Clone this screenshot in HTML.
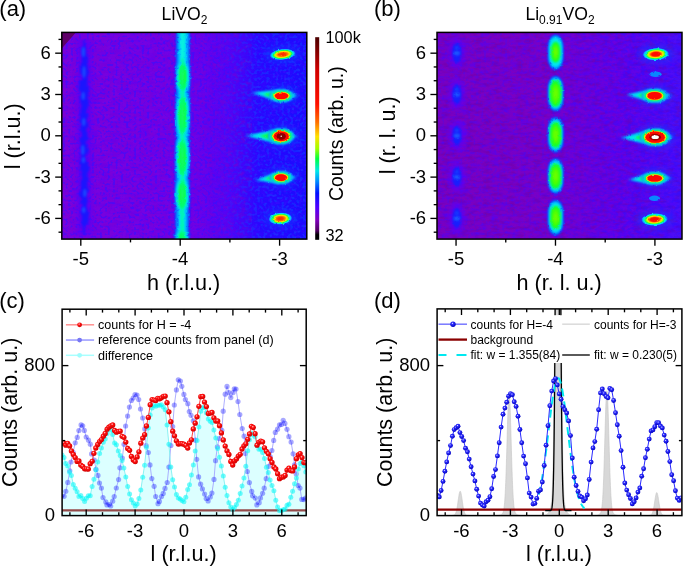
<!DOCTYPE html>
<html><head><meta charset="utf-8"><style>
html,body{margin:0;padding:0;background:#fff;width:685px;height:566px;overflow:hidden}
svg{display:block}
text{font-family:"Liberation Sans",sans-serif;fill:#000}
filter{color-interpolation-filters:sRGB}
</style></head><body>
<svg style="will-change:transform" width="685" height="566" viewBox="0 0 685 566">
<rect width="685" height="566" fill="#fff"/>
<defs>
<linearGradient id="cbar" x1="0" y1="0" x2="0" y2="1">
<stop offset="0" stop-color="#4a0000"/>
<stop offset="0.06" stop-color="#7a0000"/>
<stop offset="0.16" stop-color="#d00000"/>
<stop offset="0.33" stop-color="#ff1000"/>
<stop offset="0.42" stop-color="#ff7000"/>
<stop offset="0.49" stop-color="#ffe000"/>
<stop offset="0.55" stop-color="#a0ff00"/>
<stop offset="0.60" stop-color="#00ff40"/>
<stop offset="0.66" stop-color="#00e8e8"/>
<stop offset="0.71" stop-color="#0090ff"/>
<stop offset="0.77" stop-color="#0010ff"/>
<stop offset="0.84" stop-color="#5000ff"/>
<stop offset="0.90" stop-color="#8000c0"/>
<stop offset="0.955" stop-color="#500060"/>
<stop offset="0.975" stop-color="#000000"/>
<stop offset="1" stop-color="#000000"/>
</linearGradient>
<linearGradient id="abg" x1="62" y1="0" x2="307" y2="0" gradientUnits="userSpaceOnUse">
<stop offset="0" stop-color="#7a02dc"/>
<stop offset="0.52" stop-color="#7002e6"/>
<stop offset="0.68" stop-color="#5604f4"/>
<stop offset="0.8" stop-color="#2a08ff"/>
<stop offset="1" stop-color="#1a0cff"/>
</linearGradient>
<linearGradient id="bbg" x1="437" y1="0" x2="682" y2="0" gradientUnits="userSpaceOnUse">
<stop offset="0" stop-color="#7a00c0"/>
<stop offset="0.45" stop-color="#7800c8"/>
<stop offset="0.72" stop-color="#6a00e0"/>
<stop offset="0.9" stop-color="#5608f0"/>
<stop offset="1" stop-color="#4a10f8"/>
</linearGradient>
<filter id="b1" x="-50%" y="-50%" width="200%" height="200%"><feGaussianBlur stdDeviation="1"/></filter>
<filter id="b05" x="-50%" y="-50%" width="200%" height="200%"><feGaussianBlur stdDeviation="0.6"/></filter>
<filter id="b15" x="-50%" y="-50%" width="200%" height="200%"><feGaussianBlur stdDeviation="1.5"/></filter>
<filter id="disp" x="-10%" y="-10%" width="120%" height="120%"><feTurbulence type="fractalNoise" baseFrequency="0.35" numOctaves="1" seed="4" result="n"/><feDisplacementMap in="SourceGraphic" in2="n" scale="3.2" xChannelSelector="R" yChannelSelector="G"/></filter>
<filter id="disp2" x="-5%" y="-5%" width="110%" height="110%"><feTurbulence type="fractalNoise" baseFrequency="0.4" numOctaves="1" seed="9" result="n"/><feDisplacementMap in="SourceGraphic" in2="n" scale="2.6" xChannelSelector="R" yChannelSelector="G"/></filter>
<filter id="b2" x="-50%" y="-50%" width="200%" height="200%"><feGaussianBlur stdDeviation="2"/></filter>
<filter id="b3" x="-50%" y="-50%" width="200%" height="200%"><feGaussianBlur stdDeviation="3"/></filter>
<filter id="noiseB" x="0" y="0" width="100%" height="100%">
<feTurbulence type="fractalNoise" baseFrequency="0.1 0.28" numOctaves="2" seed="3" result="t"/>
<feColorMatrix in="t" type="matrix" values="0 0 0 0 0.3  0 0 0 0 0.0  0 0 0 0 1  0 0 0 -3.2 1.75" />
<feGaussianBlur stdDeviation="0.6"/>
</filter>
<filter id="noiseP" x="0" y="0" width="100%" height="100%">
<feTurbulence type="fractalNoise" baseFrequency="0.15 0.22" numOctaves="2" seed="11" result="t"/>
<feColorMatrix in="t" type="matrix" values="0 0 0 0 0.5  0 0 0 0 0  0 0 0 0 0.8  0 0 0 2.8 -1.25" />
<feGaussianBlur stdDeviation="0.6"/>
</filter>
<filter id="noiseL" x="0" y="0" width="100%" height="100%">
<feTurbulence type="fractalNoise" baseFrequency="0.33 0.36" numOctaves="1" seed="8" result="t"/>
<feColorMatrix in="t" type="matrix" values="0 0 0 0 0.05  0 0 0 0 0.35  0 0 0 0 1  0 0 0 -7 3.5" />
<feGaussianBlur stdDeviation="0.5"/>
</filter>
<radialGradient id="gred" cx="0.4" cy="0.35" r="0.65">
<stop offset="0" stop-color="#ffd0d0"/><stop offset="0.35" stop-color="#ff1010"/><stop offset="1" stop-color="#d00000"/></radialGradient>
<radialGradient id="gblue" cx="0.4" cy="0.35" r="0.65">
<stop offset="0" stop-color="#e0e0ff"/><stop offset="0.3" stop-color="#3030ff"/><stop offset="1" stop-color="#0000c0"/></radialGradient>
<linearGradient id="mfade" x1="62" y1="0" x2="307" y2="0" gradientUnits="userSpaceOnUse"><stop offset="0.6" stop-color="#fff" stop-opacity="0"/><stop offset="0.8" stop-color="#fff" stop-opacity="1"/></linearGradient>
<mask id="mright" maskUnits="userSpaceOnUse" x="0" y="0" width="685" height="566"><rect x="62" y="32" width="245" height="208" fill="url(#mfade)"/></mask>
<linearGradient id="mfadeb" x1="437" y1="0" x2="682" y2="0" gradientUnits="userSpaceOnUse"><stop offset="0.45" stop-color="#fff" stop-opacity="0"/><stop offset="0.8" stop-color="#fff" stop-opacity="1"/></linearGradient>
<mask id="mrightb" maskUnits="userSpaceOnUse" x="0" y="0" width="685" height="566"><rect x="437" y="32" width="245" height="208" fill="url(#mfadeb)"/></mask>
<filter id="noiseB2" x="0" y="0" width="100%" height="100%">
<feTurbulence type="fractalNoise" baseFrequency="0.22 0.3" numOctaves="2" seed="17" result="t"/>
<feColorMatrix in="t" type="matrix" values="0 0 0 0 0.18  0 0 0 0 0.05  0 0 0 0 1  0 0 0 -5 2.75" />
<feGaussianBlur stdDeviation="0.5"/>
</filter>
<radialGradient id="gspotS" cx="0.5" cy="0.5" r="0.5">
<stop offset="0" stop-color="#ff2800"/><stop offset="0.22" stop-color="#ff3800"/><stop offset="0.38" stop-color="#ff7800"/>
<stop offset="0.52" stop-color="#ffe000"/><stop offset="0.62" stop-color="#90ff10"/><stop offset="0.7" stop-color="#10ff50"/>
<stop offset="0.8" stop-color="#00e8f0"/><stop offset="0.9" stop-color="#0a98ff"/><stop offset="1" stop-color="#0a50ff" stop-opacity="0"/></radialGradient>
<radialGradient id="gspotR" cx="0.5" cy="0.5" r="0.5">
<stop offset="0" stop-color="#ff0800"/><stop offset="0.3" stop-color="#ff1000"/><stop offset="0.4" stop-color="#ff6000"/>
<stop offset="0.52" stop-color="#ffe000"/><stop offset="0.62" stop-color="#90ff10"/><stop offset="0.7" stop-color="#10ff50"/>
<stop offset="0.8" stop-color="#00e8f0"/><stop offset="0.9" stop-color="#0a98ff"/><stop offset="1" stop-color="#0a50ff" stop-opacity="0"/></radialGradient>
<filter id="noiseS" x="0" y="0" width="100%" height="100%">
<feTurbulence type="fractalNoise" baseFrequency="0.38 0.42" numOctaves="1" seed="23" result="t"/>
<feColorMatrix in="t" type="matrix" values="0 0 0 0 0.22  0 0 0 0 0.06  0 0 0 0 1  0 0 0 -8 3.7" />
<feGaussianBlur stdDeviation="0.45"/>
</filter>
<filter id="noiseD" x="0" y="0" width="100%" height="100%">
<feTurbulence type="fractalNoise" baseFrequency="0.12 0.3" numOctaves="2" seed="31" result="t"/>
<feColorMatrix in="t" type="matrix" values="0 0 0 0 0.42  0 0 0 0 0  0 0 0 0 0.58  0 0 0 3.2 -1.5" />
<feGaussianBlur stdDeviation="0.6"/>
</filter>
<clipPath id="clipa"><rect x="62" y="32.5" width="245" height="206.5"/></clipPath>
<clipPath id="clipb"><rect x="437" y="32.5" width="245" height="206.5"/></clipPath>
<clipPath id="clipc"><rect x="62" y="309" width="244.3" height="206"/></clipPath>
<clipPath id="clipd"><rect x="437" y="309" width="244.6" height="206"/></clipPath>
</defs>
<g clip-path="url(#clipa)">
<rect x="62" y="32" width="245" height="208" fill="url(#abg)"/>
<rect x="62" y="32" width="245" height="208" filter="url(#noiseB)" opacity="0.3"/>
<rect x="62" y="32" width="190" height="208" filter="url(#noiseP)" opacity="0.45"/>
<rect x="62" y="32" width="245" height="208" filter="url(#noiseS)" opacity="0.6"/>
<g mask="url(#mright)"><rect x="62" y="32" width="245" height="208" filter="url(#noiseL)" opacity="0.35"/></g>
<polygon points="60.0,30.0 78.0,30.0 60.0,50.5" fill="#60006a" filter="url(#b05)"/>
<rect x="77.5" y="40" width="14" height="195" fill="#5000ff" filter="url(#b2)" opacity="0.55"/>
<polygon points="83.4,40.0 83.2,43.0 83.7,46.0 80.9,49.0 81.5,52.0 81.8,55.0 81.8,58.0 82.1,61.0 81.1,64.0 79.8,67.0 80.1,70.0 80.0,73.0 82.8,76.0 82.7,79.0 78.9,82.0 79.6,85.0 78.4,88.0 79.3,91.0 82.0,94.0 79.3,97.0 80.0,100.0 80.5,103.0 81.8,106.0 80.8,109.0 81.0,112.0 79.7,115.0 80.7,118.0 78.9,121.0 81.7,124.0 80.2,127.0 80.2,130.0 81.8,133.0 82.2,136.0 79.6,139.0 80.2,142.0 81.0,145.0 80.3,148.0 81.6,151.0 80.5,154.0 81.5,157.0 80.6,160.0 79.6,163.0 81.2,166.0 79.8,169.0 82.0,172.0 81.1,175.0 82.4,178.0 80.9,181.0 80.7,184.0 81.0,187.0 81.1,190.0 79.2,193.0 79.1,196.0 82.3,199.0 79.4,202.0 82.9,205.0 81.7,208.0 81.0,211.0 80.7,214.0 82.1,217.0 81.7,220.0 81.2,223.0 82.5,226.0 83.0,229.0 83.1,232.0 83.3,235.0 84.6,235.0 84.9,232.0 84.9,229.0 84.9,226.0 88.4,223.0 88.4,220.0 88.5,217.0 89.2,214.0 88.1,211.0 86.5,208.0 86.6,205.0 87.5,202.0 87.5,199.0 86.4,196.0 86.5,193.0 89.1,190.0 87.6,187.0 87.4,184.0 87.6,181.0 88.7,178.0 86.6,175.0 88.1,172.0 89.7,169.0 88.6,166.0 87.9,163.0 85.9,160.0 85.2,157.0 86.3,154.0 89.3,151.0 87.4,148.0 87.1,145.0 85.3,142.0 88.8,139.0 87.3,136.0 87.5,133.0 85.9,130.0 88.0,127.0 88.7,124.0 86.6,121.0 87.2,118.0 88.7,115.0 85.6,112.0 87.3,109.0 88.2,106.0 88.9,103.0 88.5,100.0 87.5,97.0 88.4,94.0 88.7,91.0 89.1,88.0 86.6,85.0 87.8,82.0 87.1,79.0 87.3,76.0 89.3,73.0 88.2,70.0 87.8,67.0 87.4,64.0 87.5,61.0 88.4,58.0 86.4,55.0 86.4,52.0 85.9,49.0 85.6,46.0 84.9,43.0 84.9,40.0" fill="#1418ff" filter="url(#b1)" opacity="0.9"/>
<ellipse cx="83.4" cy="52.0" rx="1.80" ry="5.00" fill="#1a50ff" filter="url(#b1)" opacity="0.85"/>
<ellipse cx="84.0" cy="72.0" rx="1.80" ry="6.00" fill="#1a50ff" filter="url(#b1)" opacity="0.85"/>
<ellipse cx="83.2" cy="96.0" rx="1.80" ry="4.00" fill="#1a50ff" filter="url(#b1)" opacity="0.85"/>
<ellipse cx="83.7" cy="122.0" rx="1.80" ry="4.00" fill="#1a50ff" filter="url(#b1)" opacity="0.85"/>
<ellipse cx="82.8" cy="150.0" rx="1.80" ry="5.00" fill="#1a50ff" filter="url(#b1)" opacity="0.85"/>
<ellipse cx="83.4" cy="160.0" rx="1.80" ry="3.00" fill="#1a50ff" filter="url(#b1)" opacity="0.85"/>
<ellipse cx="84.8" cy="193.0" rx="1.80" ry="4.00" fill="#1a50ff" filter="url(#b1)" opacity="0.85"/>
<ellipse cx="83.7" cy="210.0" rx="1.80" ry="3.00" fill="#1a50ff" filter="url(#b1)" opacity="0.85"/>
<g filter="url(#disp)">
<polygon points="176.0,28.0 176.0,29.8 176.0,31.6 176.0,33.4 176.0,35.3 176.0,37.1 176.0,38.9 176.0,40.7 175.9,42.5 175.9,44.3 175.9,46.2 175.9,48.0 175.9,49.8 175.9,51.6 175.9,53.4 175.9,55.2 175.9,57.0 175.9,58.9 175.9,60.7 175.9,62.5 175.7,64.3 175.5,66.1 175.4,67.9 175.3,69.7 175.3,71.6 175.2,73.4 175.2,75.2 175.2,77.0 175.2,78.8 175.2,80.6 175.2,82.5 175.2,84.3 175.3,86.1 175.4,87.9 175.6,89.7 175.7,91.5 175.7,93.3 175.7,95.2 175.7,97.0 175.4,98.8 175.3,100.6 175.2,102.4 175.2,104.2 175.1,106.1 175.1,107.9 175.1,109.7 175.0,111.5 175.0,113.3 175.0,115.1 175.0,116.9 175.0,118.8 175.0,120.6 175.0,122.4 175.0,124.2 175.1,126.0 175.1,127.8 175.1,129.6 175.2,131.5 175.3,133.3 175.5,135.1 175.5,136.9 175.5,138.7 175.3,140.5 175.1,142.4 175.1,144.2 175.0,146.0 174.9,147.8 174.9,149.6 174.9,151.4 174.8,153.2 174.8,155.1 174.8,156.9 174.8,158.7 174.8,160.5 174.8,162.3 174.8,164.1 174.8,165.9 174.9,167.8 174.9,169.6 174.9,171.4 175.0,173.2 175.2,175.0 175.3,176.8 175.3,178.7 175.3,180.5 175.0,182.3 174.9,184.1 174.8,185.9 174.7,187.7 174.7,189.5 174.6,191.4 174.6,193.2 174.6,195.0 174.6,196.8 174.6,198.6 174.6,200.4 174.7,202.3 174.7,204.1 174.8,205.9 175.0,207.7 175.1,209.5 175.1,211.3 175.1,213.1 175.1,215.0 175.1,216.8 175.1,218.6 175.1,220.4 175.1,222.2 175.1,224.0 175.1,225.8 175.1,227.7 175.0,229.5 175.0,231.3 174.7,233.1 174.6,234.9 174.5,236.7 174.5,238.6 174.5,240.4 174.6,242.2 174.8,244.0 189.1,244.0 189.3,242.2 189.4,240.4 189.5,238.6 189.5,236.7 189.4,234.9 189.3,233.1 189.0,231.3 189.0,229.5 189.1,227.7 189.1,225.8 189.1,224.0 189.1,222.2 189.1,220.4 189.1,218.6 189.1,216.8 189.1,215.0 189.1,213.1 189.1,211.3 189.1,209.5 189.4,207.7 189.5,205.9 189.6,204.1 189.7,202.3 189.7,200.4 189.8,198.6 189.8,196.8 189.8,195.0 189.8,193.2 189.8,191.4 189.8,189.5 189.8,187.7 189.7,185.9 189.6,184.1 189.5,182.3 189.3,180.5 189.3,178.7 189.3,176.8 189.4,175.0 189.6,173.2 189.7,171.4 189.8,169.6 189.8,167.8 189.9,165.9 189.9,164.1 189.9,162.3 190.0,160.5 190.0,158.7 190.0,156.9 190.0,155.1 190.0,153.2 190.0,151.4 190.0,149.6 189.9,147.8 189.9,146.0 189.9,144.2 189.8,142.4 189.7,140.5 189.5,138.7 189.5,136.9 189.5,135.1 189.7,133.3 189.8,131.5 189.9,129.6 190.0,127.8 190.0,126.0 190.1,124.2 190.1,122.4 190.1,120.6 190.2,118.8 190.2,116.9 190.2,115.1 190.2,113.3 190.2,111.5 190.2,109.7 190.2,107.9 190.2,106.1 190.1,104.2 190.1,102.4 190.0,100.6 189.9,98.8 189.7,97.0 189.7,95.2 189.7,93.3 189.7,91.5 189.9,89.7 190.1,87.9 190.2,86.1 190.2,84.3 190.3,82.5 190.3,80.6 190.4,78.8 190.4,77.0 190.4,75.2 190.4,73.4 190.4,71.6 190.3,69.7 190.3,67.9 190.2,66.1 190.0,64.3 189.9,62.5 189.9,60.7 189.9,58.9 189.9,57.0 189.9,55.2 189.9,53.4 189.9,51.6 189.9,49.8 189.9,48.0 189.9,46.2 189.9,44.3 189.9,42.5 190.0,40.7 190.0,38.9 190.0,37.1 190.0,35.3 190.0,33.4 190.0,31.6 190.0,29.8 190.0,28.0" fill="#0a30ff" filter="url(#b1)"/>
<polygon points="177.0,28.0 177.0,29.8 177.0,31.6 177.0,33.4 177.0,35.3 177.0,37.1 177.0,38.9 177.0,40.7 176.9,42.5 176.9,44.3 176.9,46.2 176.9,48.0 176.9,49.8 176.9,51.6 176.9,53.4 176.9,55.2 176.9,57.0 176.9,58.9 176.9,60.7 176.9,62.5 176.6,64.3 176.3,66.1 176.2,67.9 176.1,69.7 176.0,71.6 175.9,73.4 175.9,75.2 175.9,77.0 175.9,78.8 175.9,80.6 175.9,82.5 176.0,84.3 176.1,86.1 176.2,87.9 176.5,89.7 176.7,91.5 176.7,93.3 176.7,95.2 176.6,97.0 176.3,98.8 176.1,100.6 176.0,102.4 175.9,104.2 175.9,106.1 175.8,107.9 175.8,109.7 175.7,111.5 175.7,113.3 175.7,115.1 175.7,116.9 175.7,118.8 175.7,120.6 175.7,122.4 175.8,124.2 175.8,126.0 175.9,127.8 175.9,129.6 176.1,131.5 176.2,133.3 176.5,135.1 176.5,136.9 176.5,138.7 176.2,140.5 176.0,142.4 175.9,144.2 175.8,146.0 175.7,147.8 175.6,149.6 175.6,151.4 175.5,153.2 175.5,155.1 175.5,156.9 175.5,158.7 175.5,160.5 175.5,162.3 175.5,164.1 175.6,165.9 175.6,167.8 175.7,169.6 175.8,171.4 175.9,173.2 176.1,175.0 176.3,176.8 176.3,178.7 176.3,180.5 175.9,182.3 175.7,184.1 175.6,185.9 175.5,187.7 175.4,189.5 175.4,191.4 175.3,193.2 175.3,195.0 175.3,196.8 175.3,198.6 175.4,200.4 175.4,202.3 175.5,204.1 175.6,205.9 175.9,207.7 176.1,209.5 176.1,211.3 176.1,213.1 176.1,215.0 176.1,216.8 176.1,218.6 176.1,220.4 176.1,222.2 176.1,224.0 176.1,225.8 176.1,227.7 176.0,229.5 176.0,231.3 175.6,233.1 175.4,234.9 175.3,236.7 175.3,238.6 175.3,240.4 175.4,242.2 175.8,244.0 188.2,244.0 188.5,242.2 188.7,240.4 188.7,238.6 188.7,236.7 188.6,234.9 188.5,233.1 188.0,231.3 188.0,229.5 188.1,227.7 188.1,225.8 188.1,224.0 188.1,222.2 188.1,220.4 188.1,218.6 188.1,216.8 188.1,215.0 188.1,213.1 188.1,211.3 188.1,209.5 188.5,207.7 188.7,205.9 188.8,204.1 188.9,202.3 189.0,200.4 189.1,198.6 189.1,196.8 189.1,195.0 189.1,193.2 189.1,191.4 189.1,189.5 189.0,187.7 188.9,185.9 188.8,184.1 188.7,182.3 188.3,180.5 188.3,178.7 188.3,176.8 188.5,175.0 188.8,173.2 188.9,171.4 189.0,169.6 189.1,167.8 189.1,165.9 189.2,164.1 189.2,162.3 189.3,160.5 189.3,158.7 189.3,156.9 189.3,155.1 189.3,153.2 189.3,151.4 189.2,149.6 189.2,147.8 189.1,146.0 189.1,144.2 188.9,142.4 188.8,140.5 188.5,138.7 188.5,136.9 188.5,135.1 188.8,133.3 189.0,131.5 189.1,129.6 189.2,127.8 189.3,126.0 189.4,124.2 189.4,122.4 189.4,120.6 189.5,118.8 189.5,116.9 189.5,115.1 189.5,113.3 189.5,111.5 189.5,109.7 189.5,107.9 189.4,106.1 189.4,104.2 189.3,102.4 189.2,100.6 189.1,98.8 188.7,97.0 188.7,95.2 188.7,93.3 188.7,91.5 188.9,89.7 189.2,87.9 189.4,86.1 189.5,84.3 189.6,82.5 189.6,80.6 189.7,78.8 189.7,77.0 189.7,75.2 189.7,73.4 189.6,71.6 189.6,69.7 189.5,67.9 189.3,66.1 189.1,64.3 188.9,62.5 188.9,60.7 188.9,58.9 188.9,57.0 188.9,55.2 188.9,53.4 188.9,51.6 188.9,49.8 188.9,48.0 188.9,46.2 188.9,44.3 188.9,42.5 189.0,40.7 189.0,38.9 189.0,37.1 189.0,35.3 189.0,33.4 189.0,31.6 189.0,29.8 189.0,28.0" fill="#00a0ff" filter="url(#b1)"/>
<polygon points="179.8,28.0 179.8,29.8 179.8,31.6 179.8,33.4 179.8,35.3 179.8,37.1 179.8,38.9 179.8,40.7 179.7,42.5 179.7,44.3 179.7,46.2 179.7,48.0 179.7,49.8 179.7,51.6 179.7,53.4 179.7,55.2 179.7,57.0 179.7,58.9 179.7,60.7 179.7,62.5 179.0,64.3 178.1,66.1 177.6,67.9 177.3,69.7 177.1,71.6 176.9,73.4 176.8,75.2 176.8,77.0 176.8,78.8 176.9,80.6 177.0,82.5 177.2,84.3 177.5,86.1 178.0,87.9 178.9,89.7 179.5,91.5 179.5,93.3 179.5,95.2 179.3,97.0 178.3,98.8 177.8,100.6 177.5,102.4 177.2,104.2 177.0,106.1 176.9,107.9 176.8,109.7 176.7,111.5 176.6,113.3 176.6,115.1 176.6,116.9 176.6,118.8 176.7,120.6 176.8,122.4 176.9,124.2 177.0,126.0 177.2,127.8 177.5,129.6 177.9,131.5 178.5,133.3 179.3,135.1 179.3,136.9 179.3,138.7 178.4,140.5 177.8,142.4 177.4,144.2 177.1,146.0 176.9,147.8 176.7,149.6 176.6,151.4 176.5,153.2 176.4,155.1 176.4,156.9 176.4,158.7 176.4,160.5 176.5,162.3 176.6,164.1 176.7,165.9 176.8,167.8 177.1,169.6 177.4,171.4 177.8,173.2 178.5,175.0 179.1,176.8 179.1,178.7 179.1,180.5 177.9,182.3 177.3,184.1 176.9,185.9 176.6,187.7 176.4,189.5 176.3,191.4 176.2,193.2 176.2,195.0 176.2,196.8 176.3,198.6 176.4,200.4 176.6,202.3 176.9,204.1 177.3,205.9 178.0,207.7 178.9,209.5 178.9,211.3 178.9,213.1 178.9,215.0 178.9,216.8 178.9,218.6 178.9,220.4 178.9,222.2 178.9,224.0 178.9,225.8 178.9,227.7 178.8,229.5 178.8,231.3 177.5,233.1 176.9,234.9 176.6,236.7 176.6,238.6 176.7,240.4 177.1,242.2 178.1,244.0 185.8,244.0 186.9,242.2 187.3,240.4 187.4,238.6 187.4,236.7 187.1,234.9 186.6,233.1 185.2,231.3 185.2,229.5 185.3,227.7 185.3,225.8 185.3,224.0 185.3,222.2 185.3,220.4 185.3,218.6 185.3,216.8 185.3,215.0 185.3,213.1 185.3,211.3 185.3,209.5 186.3,207.7 187.0,205.9 187.4,204.1 187.7,202.3 187.9,200.4 188.1,198.6 188.2,196.8 188.2,195.0 188.2,193.2 188.1,191.4 188.0,189.5 187.9,187.7 187.6,185.9 187.2,184.1 186.7,182.3 185.5,180.5 185.5,178.7 185.5,176.8 186.1,175.0 186.9,173.2 187.3,171.4 187.6,169.6 187.8,167.8 188.0,165.9 188.2,164.1 188.3,162.3 188.3,160.5 188.4,158.7 188.4,156.9 188.4,155.1 188.3,153.2 188.3,151.4 188.1,149.6 188.0,147.8 187.8,146.0 187.5,144.2 187.2,142.4 186.6,140.5 185.7,138.7 185.7,136.9 185.7,135.1 186.5,133.3 187.2,131.5 187.6,129.6 187.8,127.8 188.1,126.0 188.2,124.2 188.4,122.4 188.5,120.6 188.5,118.8 188.6,116.9 188.6,115.1 188.6,113.3 188.5,111.5 188.5,109.7 188.4,107.9 188.3,106.1 188.1,104.2 187.8,102.4 187.5,100.6 187.1,98.8 186.0,97.0 185.9,95.2 185.9,93.3 185.9,91.5 186.6,89.7 187.5,87.9 187.9,86.1 188.3,84.3 188.5,82.5 188.7,80.6 188.7,78.8 188.8,77.0 188.8,75.2 188.7,73.4 188.6,71.6 188.4,69.7 188.0,67.9 187.6,66.1 186.7,64.3 186.1,62.5 186.1,60.7 186.1,58.9 186.1,57.0 186.1,55.2 186.1,53.4 186.1,51.6 186.1,49.8 186.1,48.0 186.1,46.2 186.1,44.3 186.1,42.5 186.2,40.7 186.2,38.9 186.2,37.1 186.2,35.3 186.2,33.4 186.2,31.6 186.2,29.8 186.2,28.0" fill="#00e4f4" filter="url(#b1)"/>
<polygon points="182.4,28.0 182.4,29.8 182.4,31.6 182.4,33.4 182.4,35.3 182.4,37.1 182.4,38.9 182.4,40.7 182.3,42.5 182.3,44.3 182.3,46.2 182.3,48.0 182.3,49.8 182.3,51.6 182.3,53.4 182.3,55.2 182.3,57.0 182.3,58.9 182.3,60.7 182.3,62.5 181.3,64.3 180.1,66.1 179.5,67.9 179.1,69.7 178.7,71.6 178.5,73.4 178.4,75.2 178.4,77.0 178.4,78.8 178.5,80.6 178.7,82.5 179.0,84.3 179.4,86.1 180.0,87.9 181.3,89.7 182.1,91.5 182.1,93.3 182.1,95.2 181.9,97.0 180.4,98.8 179.8,100.6 179.4,102.4 179.0,104.2 178.8,106.1 178.6,107.9 178.4,109.7 178.3,111.5 178.2,113.3 178.2,115.1 178.2,116.9 178.2,118.8 178.3,120.6 178.4,122.4 178.6,124.2 178.8,126.0 179.1,127.8 179.5,129.6 180.0,131.5 180.8,133.3 181.9,135.1 181.9,136.9 181.9,138.7 180.7,140.5 179.9,142.4 179.3,144.2 178.9,146.0 178.7,147.8 178.4,149.6 178.3,151.4 178.1,153.2 178.0,155.1 178.0,156.9 178.0,158.7 178.0,160.5 178.1,162.3 178.2,164.1 178.4,165.9 178.6,167.8 178.9,169.6 179.3,171.4 179.9,173.2 180.9,175.0 181.7,176.8 181.7,178.7 181.7,180.5 180.0,182.3 179.2,184.1 178.7,185.9 178.4,187.7 178.1,189.5 177.9,191.4 177.8,193.2 177.8,195.0 177.8,196.8 178.0,198.6 178.1,200.4 178.4,202.3 178.8,204.1 179.3,205.9 180.3,207.7 181.5,209.5 181.5,211.3 181.5,213.1 181.5,215.0 181.5,216.8 181.5,218.6 181.5,220.4 181.5,222.2 181.5,224.0 181.5,225.8 181.5,227.7 181.4,229.5 181.4,231.3 179.6,233.1 178.8,234.9 178.4,236.7 178.4,238.6 178.6,240.4 179.1,242.2 180.5,244.0 183.5,244.0 184.9,242.2 185.4,240.4 185.6,238.6 185.6,236.7 185.2,234.9 184.4,233.1 182.6,231.3 182.6,229.5 182.7,227.7 182.7,225.8 182.7,224.0 182.7,222.2 182.7,220.4 182.7,218.6 182.7,216.8 182.7,215.0 182.7,213.1 182.7,211.3 182.7,209.5 184.0,207.7 185.0,205.9 185.6,204.1 186.0,202.3 186.2,200.4 186.4,198.6 186.6,196.8 186.6,195.0 186.6,193.2 186.5,191.4 186.4,189.5 186.1,187.7 185.8,185.9 185.3,184.1 184.5,182.3 182.9,180.5 182.9,178.7 182.9,176.8 183.7,175.0 184.8,173.2 185.3,171.4 185.7,169.6 186.1,167.8 186.3,165.9 186.5,164.1 186.6,162.3 186.7,160.5 186.8,158.7 186.8,156.9 186.8,155.1 186.7,153.2 186.6,151.4 186.4,149.6 186.2,147.8 186.0,146.0 185.6,144.2 185.1,142.4 184.3,140.5 183.1,138.7 183.1,136.9 183.1,135.1 184.2,133.3 185.1,131.5 185.6,129.6 186.0,127.8 186.3,126.0 186.5,124.2 186.7,122.4 186.8,120.6 186.9,118.8 187.0,116.9 187.0,115.1 187.0,113.3 186.9,111.5 186.8,109.7 186.7,107.9 186.5,106.1 186.3,104.2 186.0,102.4 185.5,100.6 184.9,98.8 183.5,97.0 183.3,95.2 183.3,93.3 183.3,91.5 184.2,89.7 185.4,87.9 186.1,86.1 186.5,84.3 186.8,82.5 187.0,80.6 187.1,78.8 187.2,77.0 187.2,75.2 187.1,73.4 186.9,71.6 186.6,69.7 186.2,67.9 185.6,66.1 184.4,64.3 183.5,62.5 183.5,60.7 183.5,58.9 183.5,57.0 183.5,55.2 183.5,53.4 183.5,51.6 183.5,49.8 183.5,48.0 183.5,46.2 183.5,44.3 183.5,42.5 183.6,40.7 183.6,38.9 183.6,37.1 183.6,35.3 183.6,33.4 183.6,31.6 183.6,29.8 183.6,28.0" fill="#00ff90" filter="url(#b1)"/>
<polygon points="183.0,28.0 183.0,29.8 183.0,31.6 183.0,33.4 183.0,35.3 183.0,37.1 183.0,38.9 183.0,40.7 182.9,42.5 182.9,44.3 182.9,46.2 182.9,48.0 182.9,49.8 182.9,51.6 182.9,53.4 182.9,55.2 182.9,57.0 182.9,58.9 182.9,60.7 182.9,62.5 182.5,64.3 181.4,66.1 180.8,67.9 180.3,69.7 180.0,71.6 179.8,73.4 179.7,75.2 179.7,77.0 179.7,78.8 179.8,80.6 180.0,82.5 180.3,84.3 180.7,86.1 181.3,87.9 182.5,89.7 182.7,91.5 182.7,93.3 182.7,95.2 182.7,97.0 181.7,98.8 181.1,100.6 180.6,102.4 180.3,104.2 180.1,106.1 179.9,107.9 179.7,109.7 179.6,111.5 179.5,113.3 179.5,115.1 179.5,116.9 179.5,118.8 179.6,120.6 179.7,122.4 179.9,124.2 180.1,126.0 180.4,127.8 180.7,129.6 181.2,131.5 182.0,133.3 182.5,135.1 182.5,136.9 182.5,138.7 181.9,140.5 181.1,142.4 180.6,144.2 180.2,146.0 179.9,147.8 179.7,149.6 179.5,151.4 179.4,153.2 179.3,155.1 179.3,156.9 179.3,158.7 179.3,160.5 179.4,162.3 179.5,164.1 179.7,165.9 179.9,167.8 180.2,169.6 180.6,171.4 181.1,173.2 182.1,175.0 182.3,176.8 182.3,178.7 182.3,180.5 181.3,182.3 180.5,184.1 180.0,185.9 179.7,187.7 179.4,189.5 179.2,191.4 179.1,193.2 179.1,195.0 179.1,196.8 179.2,198.6 179.4,200.4 179.7,202.3 180.1,204.1 180.6,205.9 181.5,207.7 182.1,209.5 182.1,211.3 182.1,213.1 182.1,215.0 182.1,216.8 182.1,218.6 182.1,220.4 182.1,222.2 182.1,224.0 182.1,225.8 182.1,227.7 182.0,229.5 182.0,231.3 180.9,233.1 180.1,234.9 179.7,236.7 179.7,238.6 179.8,240.4 180.4,242.2 181.7,244.0 182.3,244.0 183.6,242.2 184.1,240.4 184.4,238.6 184.3,236.7 184.0,234.9 183.2,233.1 182.0,231.3 182.0,229.5 182.1,227.7 182.1,225.8 182.1,224.0 182.1,222.2 182.1,220.4 182.1,218.6 182.1,216.8 182.1,215.0 182.1,213.1 182.1,211.3 182.1,209.5 182.8,207.7 183.7,205.9 184.3,204.1 184.7,202.3 185.0,200.4 185.1,198.6 185.3,196.8 185.3,195.0 185.3,193.2 185.2,191.4 185.1,189.5 184.8,187.7 184.5,185.9 184.0,184.1 183.3,182.3 182.3,180.5 182.3,178.7 182.3,176.8 182.5,175.0 183.5,173.2 184.1,171.4 184.5,169.6 184.8,167.8 185.0,165.9 185.2,164.1 185.3,162.3 185.4,160.5 185.5,158.7 185.5,156.9 185.5,155.1 185.4,153.2 185.3,151.4 185.2,149.6 184.9,147.8 184.7,146.0 184.3,144.2 183.8,142.4 183.0,140.5 182.5,138.7 182.5,136.9 182.5,135.1 183.0,133.3 183.8,131.5 184.3,129.6 184.7,127.8 185.0,126.0 185.2,124.2 185.4,122.4 185.5,120.6 185.6,118.8 185.7,116.9 185.7,115.1 185.7,113.3 185.6,111.5 185.5,109.7 185.4,107.9 185.2,106.1 185.0,104.2 184.7,102.4 184.3,100.6 183.7,98.8 182.7,97.0 182.7,95.2 182.7,93.3 182.7,91.5 183.0,89.7 184.2,87.9 184.8,86.1 185.2,84.3 185.5,82.5 185.7,80.6 185.8,78.8 185.9,77.0 185.9,75.2 185.8,73.4 185.6,71.6 185.3,69.7 184.9,67.9 184.3,66.1 183.2,64.3 182.9,62.5 182.9,60.7 182.9,58.9 182.9,57.0 182.9,55.2 182.9,53.4 182.9,51.6 182.9,49.8 182.9,48.0 182.9,46.2 182.9,44.3 182.9,42.5 183.0,40.7 183.0,38.9 183.0,37.1 183.0,35.3 183.0,33.4 183.0,31.6 183.0,29.8 183.0,28.0" fill="#00ff40" filter="url(#b1)"/>
<polygon points="183.0,28.0 183.0,29.8 183.0,31.6 183.0,33.4 183.0,35.3 183.0,37.1 183.0,38.9 183.0,40.7 182.9,42.5 182.9,44.3 182.9,46.2 182.9,48.0 182.9,49.8 182.9,51.6 182.9,53.4 182.9,55.2 182.9,57.0 182.9,58.9 182.9,60.7 182.9,62.5 182.8,64.3 182.8,66.1 182.7,67.9 182.3,69.7 182.0,71.6 181.8,73.4 181.7,75.2 181.7,77.0 181.7,78.8 181.8,80.6 182.0,82.5 182.3,84.3 182.7,86.1 182.7,87.9 182.7,89.7 182.7,91.5 182.7,93.3 182.7,95.2 182.7,97.0 182.7,98.8 182.7,100.6 182.6,102.4 182.3,104.2 182.0,106.1 181.9,107.9 181.7,109.7 181.6,111.5 181.5,113.3 181.5,115.1 181.5,116.9 181.5,118.8 181.6,120.6 181.7,122.4 181.9,124.2 182.1,126.0 182.3,127.8 182.5,129.6 182.5,131.5 182.5,133.3 182.5,135.1 182.5,136.9 182.5,138.7 182.5,140.5 182.5,142.4 182.5,144.2 182.2,146.0 181.9,147.8 181.7,149.6 181.5,151.4 181.4,153.2 181.3,155.1 181.3,156.9 181.3,158.7 181.3,160.5 181.4,162.3 181.5,164.1 181.7,165.9 181.9,167.8 182.2,169.6 182.3,171.4 182.3,173.2 182.3,175.0 182.3,176.8 182.3,178.7 182.3,180.5 182.3,182.3 182.3,184.1 182.0,185.9 181.6,187.7 181.4,189.5 181.2,191.4 181.1,193.2 181.1,195.0 181.1,196.8 181.2,198.6 181.4,200.4 181.7,202.3 182.0,204.1 182.2,205.9 182.2,207.7 182.1,209.5 182.1,211.3 182.1,213.1 182.1,215.0 182.1,216.8 182.1,218.6 182.1,220.4 182.1,222.2 182.1,224.0 182.1,225.8 182.1,227.7 182.0,229.5 182.0,231.3 182.0,233.1 182.0,234.9 181.7,236.7 181.6,238.6 181.8,240.4 182.0,242.2 182.0,244.0 182.0,244.0 182.0,242.2 182.2,240.4 182.4,238.6 182.3,236.7 182.0,234.9 182.0,233.1 182.0,231.3 182.0,229.5 182.1,227.7 182.1,225.8 182.1,224.0 182.1,222.2 182.1,220.4 182.1,218.6 182.1,216.8 182.1,215.0 182.1,213.1 182.1,211.3 182.1,209.5 182.2,207.7 182.2,205.9 182.3,204.1 182.7,202.3 183.0,200.4 183.1,198.6 183.3,196.8 183.3,195.0 183.3,193.2 183.2,191.4 183.1,189.5 182.9,187.7 182.5,185.9 182.3,184.1 182.3,182.3 182.3,180.5 182.3,178.7 182.3,176.8 182.3,175.0 182.3,173.2 182.3,171.4 182.5,169.6 182.8,167.8 183.0,165.9 183.2,164.1 183.3,162.3 183.4,160.5 183.5,158.7 183.5,156.9 183.5,155.1 183.4,153.2 183.3,151.4 183.2,149.6 183.0,147.8 182.7,146.0 182.5,144.2 182.5,142.4 182.5,140.5 182.5,138.7 182.5,136.9 182.5,135.1 182.5,133.3 182.5,131.5 182.5,129.6 182.7,127.8 183.0,126.0 183.2,124.2 183.4,122.4 183.5,120.6 183.6,118.8 183.7,116.9 183.7,115.1 183.7,113.3 183.6,111.5 183.5,109.7 183.4,107.9 183.2,106.1 183.0,104.2 182.7,102.4 182.7,100.6 182.7,98.8 182.7,97.0 182.7,95.2 182.7,93.3 182.7,91.5 182.7,89.7 182.7,87.9 182.8,86.1 183.2,84.3 183.5,82.5 183.7,80.6 183.8,78.8 183.9,77.0 183.9,75.2 183.8,73.4 183.6,71.6 183.3,69.7 182.9,67.9 182.8,66.1 182.8,64.3 182.9,62.5 182.9,60.7 182.9,58.9 182.9,57.0 182.9,55.2 182.9,53.4 182.9,51.6 182.9,49.8 182.9,48.0 182.9,46.2 182.9,44.3 182.9,42.5 183.0,40.7 183.0,38.9 183.0,37.1 183.0,35.3 183.0,33.4 183.0,31.6 183.0,29.8 183.0,28.0" fill="#40ff10" filter="url(#b15)"/>
<rect x="180.7" y="30" width="3.6" height="30" fill="#10f0f0" filter="url(#b1)" opacity="0.6"/>
<rect x="180.8" y="58" width="3.2" height="185" fill="#00f8a0" filter="url(#b1)" opacity="0.55"/>
</g>
<g filter="url(#disp2)">
<ellipse cx="282.6" cy="54.4" rx="18.20" ry="8.60" fill="#0a48ff" filter="url(#b3)" opacity="0.45"/>
<ellipse cx="282.6" cy="54.4" rx="13.20" ry="5.60" fill="url(#gspotS)" transform="rotate(-6 282.6 54.4)"/>
<ellipse cx="281.5" cy="95.8" rx="16.60" ry="9.30" fill="#0a48ff" filter="url(#b3)" opacity="0.5"/>
<polygon points="250.5,92.8 279.5,89.5 279.5,102.1" fill="#0a90ff" filter="url(#b1)"/>
<polygon points="254.5,92.8 279.5,90.5 279.5,101.1" fill="#00e8f0" filter="url(#b1)"/>
<polygon points="262.9,94.3 279.5,91.4 279.5,100.2" fill="#10ff40" filter="url(#b1)"/>
<polygon points="283.5,89.1 298.0,95.5 283.5,102.5" fill="#0a90ff" filter="url(#b1)"/>
<polygon points="283.5,90.1 295.5,95.5 283.5,101.5" fill="#00e8f0" filter="url(#b1)"/>
<ellipse cx="281.5" cy="95.8" rx="12.20" ry="6.50" fill="#0a90ff" filter="url(#b1)"/>
<ellipse cx="281.5" cy="95.8" rx="11.00" ry="5.70" fill="#00e8f0" filter="url(#b1)"/>
<ellipse cx="281.5" cy="95.8" rx="9.60" ry="4.70" fill="#10ff40" filter="url(#b1)"/>
<ellipse cx="281.5" cy="95.8" rx="8.10" ry="4.00" fill="#ffee00" filter="url(#b05)"/>
<ellipse cx="281.5" cy="95.8" rx="7.30" ry="3.65" fill="#ff8800" filter="url(#b05)"/>
<ellipse cx="281.5" cy="95.8" rx="6.60" ry="3.30" fill="#ff0800" filter="url(#b05)"/>
<ellipse cx="281.2" cy="136.3" rx="17.40" ry="10.90" fill="#0a48ff" filter="url(#b3)" opacity="0.5"/>
<polygon points="245.2,135.8 279.0,128.4 279.0,144.2" fill="#0a90ff" filter="url(#b1)"/>
<polygon points="249.2,135.8 279.0,129.4 279.0,143.2" fill="#00e8f0" filter="url(#b1)"/>
<polygon points="259.6,136.1 279.0,130.3 279.0,142.3" fill="#10ff40" filter="url(#b1)"/>
<polygon points="283.4,128.0 297.2,136.0 283.4,144.6" fill="#0a90ff" filter="url(#b1)"/>
<polygon points="283.4,129.0 294.7,136.0 283.4,143.6" fill="#00e8f0" filter="url(#b1)"/>
<ellipse cx="281.2" cy="136.3" rx="13.00" ry="8.10" fill="#0a90ff" filter="url(#b1)"/>
<ellipse cx="281.2" cy="136.3" rx="11.80" ry="7.30" fill="#00e8f0" filter="url(#b1)"/>
<ellipse cx="281.2" cy="136.3" rx="10.40" ry="6.30" fill="#10ff40" filter="url(#b1)"/>
<ellipse cx="281.2" cy="136.3" rx="8.90" ry="5.60" fill="#ffee00" filter="url(#b05)"/>
<ellipse cx="281.2" cy="136.3" rx="8.10" ry="5.25" fill="#ff8800" filter="url(#b05)"/>
<ellipse cx="281.2" cy="136.3" rx="7.40" ry="4.90" fill="#ff0800" filter="url(#b05)"/>
<ellipse cx="281.2" cy="136.3" rx="4.60" ry="3.40" fill="#8a0000" filter="url(#b05)"/>
<ellipse cx="281.2" cy="136.3" rx="0.70" ry="0.70" fill="#ffffff"/>
<ellipse cx="281.1" cy="177.6" rx="15.80" ry="9.30" fill="#0a48ff" filter="url(#b3)" opacity="0.5"/>
<polygon points="254.1,179.8 279.4,171.3 279.4,183.9" fill="#0a90ff" filter="url(#b1)"/>
<polygon points="258.1,179.8 279.4,172.3 279.4,182.9" fill="#00e8f0" filter="url(#b1)"/>
<polygon points="264.9,178.7 279.4,173.2 279.4,182.0" fill="#10ff40" filter="url(#b1)"/>
<polygon points="282.8,170.9 296.6,177.3 282.8,184.3" fill="#0a90ff" filter="url(#b1)"/>
<polygon points="282.8,171.9 294.1,177.3 282.8,183.3" fill="#00e8f0" filter="url(#b1)"/>
<ellipse cx="281.1" cy="177.6" rx="11.40" ry="6.50" fill="#0a90ff" filter="url(#b1)"/>
<ellipse cx="281.1" cy="177.6" rx="10.20" ry="5.70" fill="#00e8f0" filter="url(#b1)"/>
<ellipse cx="281.1" cy="177.6" rx="8.80" ry="4.70" fill="#10ff40" filter="url(#b1)"/>
<ellipse cx="281.1" cy="177.6" rx="7.30" ry="4.00" fill="#ffee00" filter="url(#b05)"/>
<ellipse cx="281.1" cy="177.6" rx="6.50" ry="3.65" fill="#ff8800" filter="url(#b05)"/>
<ellipse cx="281.1" cy="177.6" rx="5.80" ry="3.30" fill="#ff0800" filter="url(#b05)"/>
<ellipse cx="280.4" cy="218.6" rx="17.00" ry="9.20" fill="#0a48ff" filter="url(#b3)" opacity="0.45"/>
<ellipse cx="280.4" cy="218.6" rx="12.00" ry="6.20" fill="url(#gspotS)" transform="rotate(-4 280.4 218.6)"/>
</g>
</g>
<g clip-path="url(#clipb)">
<rect x="437" y="32" width="245" height="208" fill="url(#bbg)"/>
<rect x="437" y="32" width="245" height="208" filter="url(#noiseB)" opacity="0.45"/>
<rect x="437" y="32" width="245" height="208" filter="url(#noiseD)" opacity="0.35"/>
<rect x="437" y="32" width="245" height="208" filter="url(#noiseS)" opacity="0.3"/>
<g mask="url(#mrightb)"><rect x="437" y="32" width="245" height="208" filter="url(#noiseB2)" opacity="0.4"/></g>
<g filter="url(#disp2)">
<ellipse cx="457.0" cy="52.9" rx="9.00" ry="16.00" fill="#5800ff" filter="url(#b2)" opacity="0.6"/>
<ellipse cx="456.8" cy="52.9" rx="4.60" ry="10.00" fill="#1420ff" filter="url(#b1)" opacity="0.95"/>
<ellipse cx="456.8" cy="53.2" rx="3.20" ry="2.20" fill="#1c60ff" filter="url(#b1)" opacity="0.9"/>
<ellipse cx="456.8" cy="47.9" rx="1.80" ry="1.80" fill="#1850ff" filter="url(#b1)" opacity="0.7"/>
<ellipse cx="457.0" cy="94.2" rx="9.00" ry="16.00" fill="#5800ff" filter="url(#b2)" opacity="0.6"/>
<ellipse cx="456.8" cy="94.2" rx="4.60" ry="10.00" fill="#1420ff" filter="url(#b1)" opacity="0.95"/>
<ellipse cx="456.8" cy="94.5" rx="3.20" ry="2.20" fill="#1c60ff" filter="url(#b1)" opacity="0.9"/>
<ellipse cx="456.8" cy="89.2" rx="1.80" ry="1.80" fill="#1850ff" filter="url(#b1)" opacity="0.7"/>
<ellipse cx="457.0" cy="135.5" rx="9.00" ry="16.00" fill="#5800ff" filter="url(#b2)" opacity="0.6"/>
<ellipse cx="456.8" cy="135.5" rx="4.60" ry="10.00" fill="#1420ff" filter="url(#b1)" opacity="0.95"/>
<ellipse cx="456.8" cy="135.8" rx="3.20" ry="2.20" fill="#1c60ff" filter="url(#b1)" opacity="0.9"/>
<ellipse cx="456.8" cy="130.5" rx="1.80" ry="1.80" fill="#1850ff" filter="url(#b1)" opacity="0.7"/>
<ellipse cx="457.0" cy="176.8" rx="9.00" ry="16.00" fill="#5800ff" filter="url(#b2)" opacity="0.6"/>
<ellipse cx="456.8" cy="176.8" rx="4.60" ry="10.00" fill="#1420ff" filter="url(#b1)" opacity="0.95"/>
<ellipse cx="456.8" cy="177.1" rx="3.20" ry="2.20" fill="#1c60ff" filter="url(#b1)" opacity="0.9"/>
<ellipse cx="456.8" cy="171.8" rx="1.80" ry="1.80" fill="#1850ff" filter="url(#b1)" opacity="0.7"/>
<ellipse cx="457.0" cy="218.1" rx="9.00" ry="16.00" fill="#5800ff" filter="url(#b2)" opacity="0.6"/>
<ellipse cx="456.8" cy="218.1" rx="4.60" ry="10.00" fill="#1420ff" filter="url(#b1)" opacity="0.95"/>
<ellipse cx="456.8" cy="218.4" rx="3.20" ry="2.20" fill="#1c60ff" filter="url(#b1)" opacity="0.9"/>
<ellipse cx="456.8" cy="213.1" rx="1.80" ry="1.80" fill="#1850ff" filter="url(#b1)" opacity="0.7"/>
<rect x="547.60" y="34.43" width="16.00" height="35.50" rx="8.00" ry="12.07" fill="#0a30ff" filter="url(#b1)"/>
<rect x="548.30" y="35.43" width="14.60" height="33.50" rx="7.30" ry="11.39" fill="#00a0ff" filter="url(#b1)"/>
<rect x="549.60" y="37.43" width="12.00" height="29.50" rx="6.00" ry="10.03" fill="#00e8f0" filter="url(#b1)"/>
<rect x="551.11" y="41.84" width="8.98" height="20.68" rx="4.49" ry="7.03" fill="#10ff30" filter="url(#b1)"/>
<ellipse cx="555.6" cy="52.2" rx="3.17" ry="7.92" fill="#50ff00" filter="url(#b15)"/>
<ellipse cx="555.6" cy="52.2" rx="1.58" ry="3.96" fill="#80ff00" filter="url(#b15)" opacity="0.6"/>
<rect x="547.60" y="75.74" width="16.00" height="35.50" rx="8.00" ry="12.07" fill="#0a30ff" filter="url(#b1)"/>
<rect x="548.30" y="76.74" width="14.60" height="33.50" rx="7.30" ry="11.39" fill="#00a0ff" filter="url(#b1)"/>
<rect x="549.60" y="78.74" width="12.00" height="29.50" rx="6.00" ry="10.03" fill="#00e8f0" filter="url(#b1)"/>
<rect x="549.89" y="80.33" width="11.42" height="26.32" rx="5.71" ry="8.95" fill="#10ff30" filter="url(#b1)"/>
<ellipse cx="555.6" cy="93.5" rx="4.03" ry="10.08" fill="#50ff00" filter="url(#b15)"/>
<ellipse cx="555.6" cy="93.5" rx="2.02" ry="5.04" fill="#80ff00" filter="url(#b15)" opacity="0.6"/>
<rect x="547.60" y="117.05" width="16.00" height="35.50" rx="8.00" ry="12.07" fill="#0a30ff" filter="url(#b1)"/>
<rect x="548.30" y="118.05" width="14.60" height="33.50" rx="7.30" ry="11.39" fill="#00a0ff" filter="url(#b1)"/>
<rect x="549.60" y="120.05" width="12.00" height="29.50" rx="6.00" ry="10.03" fill="#00e8f0" filter="url(#b1)"/>
<rect x="550.09" y="122.11" width="11.02" height="25.38" rx="5.51" ry="8.63" fill="#10ff30" filter="url(#b1)"/>
<ellipse cx="555.6" cy="134.8" rx="3.89" ry="9.72" fill="#50ff00" filter="url(#b15)"/>
<ellipse cx="555.6" cy="134.8" rx="1.94" ry="4.86" fill="#80ff00" filter="url(#b15)" opacity="0.6"/>
<rect x="547.60" y="158.36" width="16.00" height="35.50" rx="8.00" ry="12.07" fill="#0a30ff" filter="url(#b1)"/>
<rect x="548.30" y="159.36" width="14.60" height="33.50" rx="7.30" ry="11.39" fill="#00a0ff" filter="url(#b1)"/>
<rect x="549.60" y="161.36" width="12.00" height="29.50" rx="6.00" ry="10.03" fill="#00e8f0" filter="url(#b1)"/>
<rect x="550.09" y="163.42" width="11.02" height="25.38" rx="5.51" ry="8.63" fill="#10ff30" filter="url(#b1)"/>
<ellipse cx="555.6" cy="176.1" rx="3.89" ry="9.72" fill="#50ff00" filter="url(#b15)"/>
<ellipse cx="555.6" cy="176.1" rx="1.94" ry="4.86" fill="#80ff00" filter="url(#b15)" opacity="0.6"/>
<rect x="547.60" y="199.67" width="16.00" height="35.50" rx="8.00" ry="12.07" fill="#0a30ff" filter="url(#b1)"/>
<rect x="548.30" y="200.67" width="14.60" height="33.50" rx="7.30" ry="11.39" fill="#00a0ff" filter="url(#b1)"/>
<rect x="549.60" y="202.67" width="12.00" height="29.50" rx="6.00" ry="10.03" fill="#00e8f0" filter="url(#b1)"/>
<rect x="550.50" y="205.67" width="10.20" height="23.50" rx="5.10" ry="7.99" fill="#10ff30" filter="url(#b1)"/>
<ellipse cx="555.6" cy="217.4" rx="3.60" ry="9.00" fill="#50ff00" filter="url(#b15)"/>
<ellipse cx="555.6" cy="217.4" rx="1.80" ry="4.50" fill="#80ff00" filter="url(#b15)" opacity="0.6"/>
<ellipse cx="655.6" cy="74.3" rx="6.00" ry="2.80" fill="#0888ff" filter="url(#b05)"/>
<ellipse cx="654.5" cy="198.3" rx="5.50" ry="2.70" fill="#0888ff" filter="url(#b05)"/>
<ellipse cx="655.8" cy="54.2" rx="18.50" ry="9.40" fill="#0a48ff" filter="url(#b3)" opacity="0.45"/>
<ellipse cx="655.8" cy="54.2" rx="13.50" ry="6.40" fill="url(#gspotR)" transform="rotate(-3 655.8 54.2)"/>
<ellipse cx="654.6" cy="95.8" rx="17.20" ry="9.80" fill="#0a48ff" filter="url(#b3)" opacity="0.5"/>
<polygon points="625.6,94.8 652.4,89.0 652.4,102.6" fill="#0a90ff" filter="url(#b1)"/>
<polygon points="629.6,94.8 652.4,90.0 652.4,101.6" fill="#00e8f0" filter="url(#b1)"/>
<polygon points="637.2,95.3 652.4,90.9 652.4,100.7" fill="#10ff40" filter="url(#b1)"/>
<polygon points="656.8,88.6 672.1,95.5 656.8,103.0" fill="#0a90ff" filter="url(#b1)"/>
<polygon points="656.8,89.6 669.6,95.5 656.8,102.0" fill="#00e8f0" filter="url(#b1)"/>
<ellipse cx="654.6" cy="95.8" rx="12.80" ry="7.00" fill="#0a90ff" filter="url(#b1)"/>
<ellipse cx="654.6" cy="95.8" rx="11.60" ry="6.20" fill="#00e8f0" filter="url(#b1)"/>
<ellipse cx="654.6" cy="95.8" rx="10.20" ry="5.20" fill="#10ff40" filter="url(#b1)"/>
<ellipse cx="654.6" cy="95.8" rx="8.70" ry="4.50" fill="#ffee00" filter="url(#b05)"/>
<ellipse cx="654.6" cy="95.8" rx="7.90" ry="4.15" fill="#ff8800" filter="url(#b05)"/>
<ellipse cx="654.6" cy="95.8" rx="7.20" ry="3.80" fill="#ff0800" filter="url(#b05)"/>
<ellipse cx="655.2" cy="137.2" rx="19.60" ry="11.60" fill="#0a48ff" filter="url(#b3)" opacity="0.5"/>
<polygon points="620.2,137.7 652.3,128.6 652.3,145.8" fill="#0a90ff" filter="url(#b1)"/>
<polygon points="624.2,137.7 652.3,129.6 652.3,144.8" fill="#00e8f0" filter="url(#b1)"/>
<polygon points="634.2,137.4 652.3,130.5 652.3,143.9" fill="#10ff40" filter="url(#b1)"/>
<polygon points="658.1,128.2 673.2,136.9 658.1,146.2" fill="#0a90ff" filter="url(#b1)"/>
<polygon points="658.1,129.2 670.7,136.9 658.1,145.2" fill="#00e8f0" filter="url(#b1)"/>
<ellipse cx="655.2" cy="137.2" rx="15.20" ry="8.80" fill="#0a90ff" filter="url(#b1)"/>
<ellipse cx="655.2" cy="137.2" rx="14.00" ry="8.00" fill="#00e8f0" filter="url(#b1)"/>
<ellipse cx="655.2" cy="137.2" rx="12.60" ry="7.00" fill="#10ff40" filter="url(#b1)"/>
<ellipse cx="655.2" cy="137.2" rx="11.10" ry="6.30" fill="#ffee00" filter="url(#b05)"/>
<ellipse cx="655.2" cy="137.2" rx="10.30" ry="5.95" fill="#ff8800" filter="url(#b05)"/>
<ellipse cx="655.2" cy="137.2" rx="9.60" ry="5.60" fill="#ff0800" filter="url(#b05)"/>
<ellipse cx="655.2" cy="137.2" rx="5.85" ry="3.40" fill="#a00000" filter="url(#b05)"/>
<ellipse cx="655.2" cy="137.2" rx="3.70" ry="1.90" fill="#ffffff"/>
<ellipse cx="654.6" cy="178.3" rx="17.30" ry="9.30" fill="#0a48ff" filter="url(#b3)" opacity="0.5"/>
<polygon points="627.6,179.8 652.4,172.0 652.4,184.6" fill="#0a90ff" filter="url(#b1)"/>
<polygon points="631.6,179.8 652.4,173.0 652.4,183.6" fill="#00e8f0" filter="url(#b1)"/>
<polygon points="638.4,179.1 652.4,173.9 652.4,182.7" fill="#10ff40" filter="url(#b1)"/>
<polygon points="656.8,171.6 671.6,178.0 656.8,185.0" fill="#0a90ff" filter="url(#b1)"/>
<polygon points="656.8,172.6 669.1,178.0 656.8,184.0" fill="#00e8f0" filter="url(#b1)"/>
<ellipse cx="654.6" cy="178.3" rx="12.90" ry="6.50" fill="#0a90ff" filter="url(#b1)"/>
<ellipse cx="654.6" cy="178.3" rx="11.70" ry="5.70" fill="#00e8f0" filter="url(#b1)"/>
<ellipse cx="654.6" cy="178.3" rx="10.30" ry="4.70" fill="#10ff40" filter="url(#b1)"/>
<ellipse cx="654.6" cy="178.3" rx="8.80" ry="4.00" fill="#ffee00" filter="url(#b05)"/>
<ellipse cx="654.6" cy="178.3" rx="8.00" ry="3.65" fill="#ff8800" filter="url(#b05)"/>
<ellipse cx="654.6" cy="178.3" rx="7.30" ry="3.30" fill="#ff0800" filter="url(#b05)"/>
<ellipse cx="654.6" cy="219.5" rx="18.50" ry="9.40" fill="#0a48ff" filter="url(#b3)" opacity="0.45"/>
<ellipse cx="654.6" cy="219.5" rx="13.50" ry="6.40" fill="url(#gspotR)" transform="rotate(-3 654.6 219.5)"/>
</g>
</g>
<rect x="61.8" y="32.4" width="245.00" height="206.70" fill="none" stroke="#000" stroke-width="1.5"/>
<line x1="58.50" y1="232.19" x2="61.80" y2="232.19" stroke="#000" stroke-width="1.35"/>
<line x1="55.20" y1="218.42" x2="61.80" y2="218.42" stroke="#000" stroke-width="1.35"/>
<line x1="58.50" y1="204.65" x2="61.80" y2="204.65" stroke="#000" stroke-width="1.35"/>
<line x1="58.50" y1="190.88" x2="61.80" y2="190.88" stroke="#000" stroke-width="1.35"/>
<line x1="55.20" y1="177.11" x2="61.80" y2="177.11" stroke="#000" stroke-width="1.35"/>
<line x1="58.50" y1="163.34" x2="61.80" y2="163.34" stroke="#000" stroke-width="1.35"/>
<line x1="58.50" y1="149.57" x2="61.80" y2="149.57" stroke="#000" stroke-width="1.35"/>
<line x1="55.20" y1="135.80" x2="61.80" y2="135.80" stroke="#000" stroke-width="1.35"/>
<line x1="58.50" y1="122.03" x2="61.80" y2="122.03" stroke="#000" stroke-width="1.35"/>
<line x1="58.50" y1="108.26" x2="61.80" y2="108.26" stroke="#000" stroke-width="1.35"/>
<line x1="55.20" y1="94.49" x2="61.80" y2="94.49" stroke="#000" stroke-width="1.35"/>
<line x1="58.50" y1="80.72" x2="61.80" y2="80.72" stroke="#000" stroke-width="1.35"/>
<line x1="58.50" y1="66.95" x2="61.80" y2="66.95" stroke="#000" stroke-width="1.35"/>
<line x1="55.20" y1="53.18" x2="61.80" y2="53.18" stroke="#000" stroke-width="1.35"/>
<line x1="58.50" y1="39.41" x2="61.80" y2="39.41" stroke="#000" stroke-width="1.35"/>
<line x1="80.80" y1="239.10" x2="80.80" y2="245.70" stroke="#000" stroke-width="1.35"/>
<line x1="130.50" y1="239.10" x2="130.50" y2="242.40" stroke="#000" stroke-width="1.35"/>
<line x1="180.20" y1="239.10" x2="180.20" y2="245.70" stroke="#000" stroke-width="1.35"/>
<line x1="229.90" y1="239.10" x2="229.90" y2="242.40" stroke="#000" stroke-width="1.35"/>
<line x1="279.60" y1="239.10" x2="279.60" y2="245.70" stroke="#000" stroke-width="1.35"/>
<text x="50.90" y="58.68" font-size="18.5" text-anchor="end" >6</text>
<text x="50.90" y="99.99" font-size="18.5" text-anchor="end" >3</text>
<text x="50.90" y="141.30" font-size="18.5" text-anchor="end" >0</text>
<text x="50.90" y="182.61" font-size="18.5" text-anchor="end" >-3</text>
<text x="50.90" y="223.92" font-size="18.5" text-anchor="end" >-6</text>
<text x="80.70" y="264.50" font-size="18.5" text-anchor="middle" >-5</text>
<text x="180.10" y="264.50" font-size="18.5" text-anchor="middle" >-4</text>
<text x="279.50" y="264.50" font-size="18.5" text-anchor="middle" >-3</text>
<rect x="437.0" y="32.4" width="245.00" height="206.70" fill="none" stroke="#000" stroke-width="1.5"/>
<line x1="433.70" y1="232.19" x2="437.00" y2="232.19" stroke="#000" stroke-width="1.35"/>
<line x1="430.40" y1="218.42" x2="437.00" y2="218.42" stroke="#000" stroke-width="1.35"/>
<line x1="433.70" y1="204.65" x2="437.00" y2="204.65" stroke="#000" stroke-width="1.35"/>
<line x1="433.70" y1="190.88" x2="437.00" y2="190.88" stroke="#000" stroke-width="1.35"/>
<line x1="430.40" y1="177.11" x2="437.00" y2="177.11" stroke="#000" stroke-width="1.35"/>
<line x1="433.70" y1="163.34" x2="437.00" y2="163.34" stroke="#000" stroke-width="1.35"/>
<line x1="433.70" y1="149.57" x2="437.00" y2="149.57" stroke="#000" stroke-width="1.35"/>
<line x1="430.40" y1="135.80" x2="437.00" y2="135.80" stroke="#000" stroke-width="1.35"/>
<line x1="433.70" y1="122.03" x2="437.00" y2="122.03" stroke="#000" stroke-width="1.35"/>
<line x1="433.70" y1="108.26" x2="437.00" y2="108.26" stroke="#000" stroke-width="1.35"/>
<line x1="430.40" y1="94.49" x2="437.00" y2="94.49" stroke="#000" stroke-width="1.35"/>
<line x1="433.70" y1="80.72" x2="437.00" y2="80.72" stroke="#000" stroke-width="1.35"/>
<line x1="433.70" y1="66.95" x2="437.00" y2="66.95" stroke="#000" stroke-width="1.35"/>
<line x1="430.40" y1="53.18" x2="437.00" y2="53.18" stroke="#000" stroke-width="1.35"/>
<line x1="433.70" y1="39.41" x2="437.00" y2="39.41" stroke="#000" stroke-width="1.35"/>
<line x1="456.05" y1="239.10" x2="456.05" y2="245.70" stroke="#000" stroke-width="1.35"/>
<line x1="505.76" y1="239.10" x2="505.76" y2="242.40" stroke="#000" stroke-width="1.35"/>
<line x1="555.48" y1="239.10" x2="555.48" y2="245.70" stroke="#000" stroke-width="1.35"/>
<line x1="605.20" y1="239.10" x2="605.20" y2="242.40" stroke="#000" stroke-width="1.35"/>
<line x1="654.91" y1="239.10" x2="654.91" y2="245.70" stroke="#000" stroke-width="1.35"/>
<text x="426.10" y="58.68" font-size="18.5" text-anchor="end" >6</text>
<text x="426.10" y="99.99" font-size="18.5" text-anchor="end" >3</text>
<text x="426.10" y="141.30" font-size="18.5" text-anchor="end" >0</text>
<text x="426.10" y="182.61" font-size="18.5" text-anchor="end" >-3</text>
<text x="426.10" y="223.92" font-size="18.5" text-anchor="end" >-6</text>
<text x="455.95" y="264.50" font-size="18.5" text-anchor="middle" >-5</text>
<text x="555.38" y="264.50" font-size="18.5" text-anchor="middle" >-4</text>
<text x="654.81" y="264.50" font-size="18.5" text-anchor="middle" >-3</text>
<rect x="315.2" y="37.2" width="4" height="202.6" fill="url(#cbar)"/>
<text x="325.50" y="42.60" font-size="16.3" text-anchor="start" >100k</text>
<text x="325.40" y="240.50" font-size="16.3" text-anchor="start" >32</text>
<text transform="translate(342.9,201) rotate(-90)" font-size="19.4">Counts (arb. u.)</text>
<text x="-0.70" y="15.60" font-size="22" text-anchor="start" >(a)</text>
<text x="374.00" y="15.60" font-size="22" text-anchor="start" >(b)</text>
<text x="-0.80" y="308.00" font-size="22" text-anchor="start" >(c)</text>
<text x="374.00" y="307.90" font-size="22" text-anchor="start" >(d)</text>
<text x="161.60" y="19.70" font-size="17.6" text-anchor="start" >LiVO<tspan font-size="12" dy="4.65">2</tspan></text>
<text x="525.40" y="19.60" font-size="17.6" text-anchor="start" >Li<tspan font-size="12" dy="4.8">0.91</tspan><tspan dy="-4.8">VO</tspan><tspan font-size="12" dy="4.8">2</tspan></text>
<text x="147.00" y="289.70" font-size="21.6" text-anchor="start" >h (r.l.u.)</text>
<text x="516.50" y="289.80" font-size="21.6" text-anchor="start" >h (r. l. u.)</text>
<text transform="translate(19.9,169.2) rotate(-90)" font-size="21.6">l (r.l.u.)</text>
<text transform="translate(394.9,174.3) rotate(-90)" font-size="21.6">l (r. l. u.)</text>
<g clip-path="url(#clipc)">
<polygon points="62.1,515.5 62.1,455.0 64.0,457.5 65.8,463.5 67.7,466.1 69.6,472.3 71.4,475.5 73.3,484.5 75.2,488.2 77.1,491.7 78.9,496.4 80.8,495.5 82.7,498.4 84.6,501.6 86.4,498.3 88.3,495.7 90.2,495.7 92.1,486.5 93.9,479.3 95.8,469.7 97.7,461.9 99.6,453.4 101.4,448.0 103.3,442.3 105.2,438.9 107.1,433.6 108.9,427.2 110.8,430.1 112.7,434.5 114.6,442.9 116.4,444.7 118.3,451.0 120.2,455.6 122.1,460.5 123.9,468.1 125.8,477.0 127.7,486.6 129.6,493.9 131.4,499.8 133.3,502.9 135.2,506.0 137.1,504.1 138.9,498.5 140.8,490.1 142.7,477.2 144.6,465.3 146.4,447.3 148.3,428.0 150.2,415.0 152.1,407.9 153.9,405.4 155.8,406.2 157.7,405.2 159.6,405.2 161.4,404.7 163.3,407.0 165.2,409.8 167.0,424.9 168.9,444.2 170.8,467.1 172.7,479.7 174.5,487.0 176.4,494.4 178.3,498.0 180.2,498.9 182.0,500.4 183.9,501.8 185.8,497.3 187.7,489.6 189.5,484.7 191.4,475.0 193.3,464.9 195.2,450.9 197.0,440.5 198.9,427.0 200.8,411.3 202.7,407.7 204.5,407.2 206.4,412.7 208.3,419.1 210.2,421.3 212.0,422.4 213.9,430.1 215.8,437.9 217.7,448.4 219.5,457.3 221.4,465.9 223.3,476.1 225.2,487.3 227.0,495.6 228.9,502.8 230.8,507.1 232.7,509.4 234.5,507.6 236.4,504.4 238.3,500.2 240.2,493.4 242.0,486.0 243.9,478.1 245.8,466.2 247.7,450.8 249.5,439.8 251.4,433.1 253.3,434.9 255.1,436.7 257.0,445.6 258.9,449.3 260.8,449.2 262.6,452.5 264.5,458.6 266.4,467.3 268.3,472.6 270.1,480.0 272.0,485.5 273.9,490.8 275.8,500.3 277.6,506.9 279.5,510.7 281.4,510.4 283.3,509.8 285.1,509.1 287.0,505.2 288.9,504.2 290.8,497.2 292.6,491.2 294.5,483.8 296.4,478.0 298.3,468.9 300.1,463.6 302.0,462.3 303.9,465.7 305.8,472.1 305.8,515.5" fill="#dcffff"/>
<line x1="62.00" y1="510.40" x2="306.30" y2="510.40" stroke="#944a4a" stroke-width="2.2"/>
<polyline points="61.7,496.4 64.1,496.3 65.8,491.3 67.8,482.4 69.8,470.8 71.0,462.0 73.1,452.4 75.2,442.8 77.2,437.4 78.9,430.5 81.1,424.9 82.7,425.8 84.3,430.4 86.2,437.0 88.5,440.2 90.3,444.2 91.6,453.9 94.3,460.0 96.0,469.4 98.0,475.4 99.5,483.1 101.4,488.1 103.0,497.6 105.8,501.9 107.0,504.9 109.3,504.5 110.7,506.0 112.7,501.2 114.2,496.6 116.3,488.0 118.6,479.6 119.9,467.8 122.3,458.1 124.0,444.3 125.6,426.0 127.6,416.1 129.4,407.1 131.4,400.5 133.2,398.0 135.0,394.5 137.0,395.0 138.7,399.5 140.5,409.0 142.7,418.0 144.8,428.9 146.1,445.5 148.3,452.5 150.0,464.9 151.8,478.6 154.1,486.3 155.7,496.5 158.0,503.7 159.4,501.4 161.5,496.6 163.2,493.4 165.0,488.4 167.2,482.5 168.9,467.1 170.9,445.5 172.7,426.6 174.3,405.0 176.4,389.9 178.3,379.8 180.4,381.0 181.8,386.3 183.9,394.4 185.4,399.5 187.8,403.7 189.3,411.6 191.0,415.3 193.3,420.8 195.4,440.2 196.7,459.3 198.6,476.9 200.6,484.2 202.4,488.9 204.6,494.1 206.2,498.5 208.1,501.0 210.3,497.0 211.9,493.1 214.0,479.4 215.5,460.7 217.4,446.8 219.1,438.6 221.9,430.3 223.2,411.2 225.2,394.2 227.0,386.4 228.9,392.7 230.8,397.6 233.1,392.6 234.3,388.8 236.0,389.0 238.0,401.6 239.8,414.5 242.2,428.5 244.1,436.2 245.5,453.6 247.3,471.5 249.4,482.6 251.7,491.4 252.6,495.8 255.3,498.1 256.8,504.9 259.2,502.7 260.5,497.9 262.6,493.3 264.2,488.2 266.2,478.7 268.6,466.3 270.3,456.8 271.9,450.5 273.7,440.4 275.3,432.4 277.5,429.2 279.5,424.9 281.4,424.5 283.2,420.3 284.9,423.4 287.0,429.3 288.9,436.7 291.1,442.1 293.1,453.8 294.5,464.8 296.2,473.9 298.2,485.5 300.0,488.1 301.8,499.4 303.9,499.6 305.5,498.2" fill="none" stroke="#9a9aff" stroke-width="0.8"/>
<circle cx="61.7" cy="496.4" r="2.6" fill="#0000ff" fill-opacity="0.34"/>
<circle cx="64.1" cy="496.3" r="2.6" fill="#0000ff" fill-opacity="0.34"/>
<circle cx="65.8" cy="491.3" r="2.6" fill="#0000ff" fill-opacity="0.34"/>
<circle cx="67.8" cy="482.4" r="2.6" fill="#0000ff" fill-opacity="0.34"/>
<circle cx="69.8" cy="470.8" r="2.6" fill="#0000ff" fill-opacity="0.34"/>
<circle cx="71.0" cy="462.0" r="2.6" fill="#0000ff" fill-opacity="0.34"/>
<circle cx="73.1" cy="452.4" r="2.6" fill="#0000ff" fill-opacity="0.34"/>
<circle cx="75.2" cy="442.8" r="2.6" fill="#0000ff" fill-opacity="0.34"/>
<circle cx="77.2" cy="437.4" r="2.6" fill="#0000ff" fill-opacity="0.34"/>
<circle cx="78.9" cy="430.5" r="2.6" fill="#0000ff" fill-opacity="0.34"/>
<circle cx="81.1" cy="424.9" r="2.6" fill="#0000ff" fill-opacity="0.34"/>
<circle cx="82.7" cy="425.8" r="2.6" fill="#0000ff" fill-opacity="0.34"/>
<circle cx="84.3" cy="430.4" r="2.6" fill="#0000ff" fill-opacity="0.34"/>
<circle cx="86.2" cy="437.0" r="2.6" fill="#0000ff" fill-opacity="0.34"/>
<circle cx="88.5" cy="440.2" r="2.6" fill="#0000ff" fill-opacity="0.34"/>
<circle cx="90.3" cy="444.2" r="2.6" fill="#0000ff" fill-opacity="0.34"/>
<circle cx="91.6" cy="453.9" r="2.6" fill="#0000ff" fill-opacity="0.34"/>
<circle cx="94.3" cy="460.0" r="2.6" fill="#0000ff" fill-opacity="0.34"/>
<circle cx="96.0" cy="469.4" r="2.6" fill="#0000ff" fill-opacity="0.34"/>
<circle cx="98.0" cy="475.4" r="2.6" fill="#0000ff" fill-opacity="0.34"/>
<circle cx="99.5" cy="483.1" r="2.6" fill="#0000ff" fill-opacity="0.34"/>
<circle cx="101.4" cy="488.1" r="2.6" fill="#0000ff" fill-opacity="0.34"/>
<circle cx="103.0" cy="497.6" r="2.6" fill="#0000ff" fill-opacity="0.34"/>
<circle cx="105.8" cy="501.9" r="2.6" fill="#0000ff" fill-opacity="0.34"/>
<circle cx="107.0" cy="504.9" r="2.6" fill="#0000ff" fill-opacity="0.34"/>
<circle cx="109.3" cy="504.5" r="2.6" fill="#0000ff" fill-opacity="0.34"/>
<circle cx="110.7" cy="506.0" r="2.6" fill="#0000ff" fill-opacity="0.34"/>
<circle cx="112.7" cy="501.2" r="2.6" fill="#0000ff" fill-opacity="0.34"/>
<circle cx="114.2" cy="496.6" r="2.6" fill="#0000ff" fill-opacity="0.34"/>
<circle cx="116.3" cy="488.0" r="2.6" fill="#0000ff" fill-opacity="0.34"/>
<circle cx="118.6" cy="479.6" r="2.6" fill="#0000ff" fill-opacity="0.34"/>
<circle cx="119.9" cy="467.8" r="2.6" fill="#0000ff" fill-opacity="0.34"/>
<circle cx="122.3" cy="458.1" r="2.6" fill="#0000ff" fill-opacity="0.34"/>
<circle cx="124.0" cy="444.3" r="2.6" fill="#0000ff" fill-opacity="0.34"/>
<circle cx="125.6" cy="426.0" r="2.6" fill="#0000ff" fill-opacity="0.34"/>
<circle cx="127.6" cy="416.1" r="2.6" fill="#0000ff" fill-opacity="0.34"/>
<circle cx="129.4" cy="407.1" r="2.6" fill="#0000ff" fill-opacity="0.34"/>
<circle cx="131.4" cy="400.5" r="2.6" fill="#0000ff" fill-opacity="0.34"/>
<circle cx="133.2" cy="398.0" r="2.6" fill="#0000ff" fill-opacity="0.34"/>
<circle cx="135.0" cy="394.5" r="2.6" fill="#0000ff" fill-opacity="0.34"/>
<circle cx="137.0" cy="395.0" r="2.6" fill="#0000ff" fill-opacity="0.34"/>
<circle cx="138.7" cy="399.5" r="2.6" fill="#0000ff" fill-opacity="0.34"/>
<circle cx="140.5" cy="409.0" r="2.6" fill="#0000ff" fill-opacity="0.34"/>
<circle cx="142.7" cy="418.0" r="2.6" fill="#0000ff" fill-opacity="0.34"/>
<circle cx="144.8" cy="428.9" r="2.6" fill="#0000ff" fill-opacity="0.34"/>
<circle cx="146.1" cy="445.5" r="2.6" fill="#0000ff" fill-opacity="0.34"/>
<circle cx="148.3" cy="452.5" r="2.6" fill="#0000ff" fill-opacity="0.34"/>
<circle cx="150.0" cy="464.9" r="2.6" fill="#0000ff" fill-opacity="0.34"/>
<circle cx="151.8" cy="478.6" r="2.6" fill="#0000ff" fill-opacity="0.34"/>
<circle cx="154.1" cy="486.3" r="2.6" fill="#0000ff" fill-opacity="0.34"/>
<circle cx="155.7" cy="496.5" r="2.6" fill="#0000ff" fill-opacity="0.34"/>
<circle cx="158.0" cy="503.7" r="2.6" fill="#0000ff" fill-opacity="0.34"/>
<circle cx="159.4" cy="501.4" r="2.6" fill="#0000ff" fill-opacity="0.34"/>
<circle cx="161.5" cy="496.6" r="2.6" fill="#0000ff" fill-opacity="0.34"/>
<circle cx="163.2" cy="493.4" r="2.6" fill="#0000ff" fill-opacity="0.34"/>
<circle cx="165.0" cy="488.4" r="2.6" fill="#0000ff" fill-opacity="0.34"/>
<circle cx="167.2" cy="482.5" r="2.6" fill="#0000ff" fill-opacity="0.34"/>
<circle cx="168.9" cy="467.1" r="2.6" fill="#0000ff" fill-opacity="0.34"/>
<circle cx="170.9" cy="445.5" r="2.6" fill="#0000ff" fill-opacity="0.34"/>
<circle cx="172.7" cy="426.6" r="2.6" fill="#0000ff" fill-opacity="0.34"/>
<circle cx="174.3" cy="405.0" r="2.6" fill="#0000ff" fill-opacity="0.34"/>
<circle cx="176.4" cy="389.9" r="2.6" fill="#0000ff" fill-opacity="0.34"/>
<circle cx="178.3" cy="379.8" r="2.6" fill="#0000ff" fill-opacity="0.34"/>
<circle cx="180.4" cy="381.0" r="2.6" fill="#0000ff" fill-opacity="0.34"/>
<circle cx="181.8" cy="386.3" r="2.6" fill="#0000ff" fill-opacity="0.34"/>
<circle cx="183.9" cy="394.4" r="2.6" fill="#0000ff" fill-opacity="0.34"/>
<circle cx="185.4" cy="399.5" r="2.6" fill="#0000ff" fill-opacity="0.34"/>
<circle cx="187.8" cy="403.7" r="2.6" fill="#0000ff" fill-opacity="0.34"/>
<circle cx="189.3" cy="411.6" r="2.6" fill="#0000ff" fill-opacity="0.34"/>
<circle cx="191.0" cy="415.3" r="2.6" fill="#0000ff" fill-opacity="0.34"/>
<circle cx="193.3" cy="420.8" r="2.6" fill="#0000ff" fill-opacity="0.34"/>
<circle cx="195.4" cy="440.2" r="2.6" fill="#0000ff" fill-opacity="0.34"/>
<circle cx="196.7" cy="459.3" r="2.6" fill="#0000ff" fill-opacity="0.34"/>
<circle cx="198.6" cy="476.9" r="2.6" fill="#0000ff" fill-opacity="0.34"/>
<circle cx="200.6" cy="484.2" r="2.6" fill="#0000ff" fill-opacity="0.34"/>
<circle cx="202.4" cy="488.9" r="2.6" fill="#0000ff" fill-opacity="0.34"/>
<circle cx="204.6" cy="494.1" r="2.6" fill="#0000ff" fill-opacity="0.34"/>
<circle cx="206.2" cy="498.5" r="2.6" fill="#0000ff" fill-opacity="0.34"/>
<circle cx="208.1" cy="501.0" r="2.6" fill="#0000ff" fill-opacity="0.34"/>
<circle cx="210.3" cy="497.0" r="2.6" fill="#0000ff" fill-opacity="0.34"/>
<circle cx="211.9" cy="493.1" r="2.6" fill="#0000ff" fill-opacity="0.34"/>
<circle cx="214.0" cy="479.4" r="2.6" fill="#0000ff" fill-opacity="0.34"/>
<circle cx="215.5" cy="460.7" r="2.6" fill="#0000ff" fill-opacity="0.34"/>
<circle cx="217.4" cy="446.8" r="2.6" fill="#0000ff" fill-opacity="0.34"/>
<circle cx="219.1" cy="438.6" r="2.6" fill="#0000ff" fill-opacity="0.34"/>
<circle cx="221.9" cy="430.3" r="2.6" fill="#0000ff" fill-opacity="0.34"/>
<circle cx="223.2" cy="411.2" r="2.6" fill="#0000ff" fill-opacity="0.34"/>
<circle cx="225.2" cy="394.2" r="2.6" fill="#0000ff" fill-opacity="0.34"/>
<circle cx="227.0" cy="386.4" r="2.6" fill="#0000ff" fill-opacity="0.34"/>
<circle cx="228.9" cy="392.7" r="2.6" fill="#0000ff" fill-opacity="0.34"/>
<circle cx="230.8" cy="397.6" r="2.6" fill="#0000ff" fill-opacity="0.34"/>
<circle cx="233.1" cy="392.6" r="2.6" fill="#0000ff" fill-opacity="0.34"/>
<circle cx="234.3" cy="388.8" r="2.6" fill="#0000ff" fill-opacity="0.34"/>
<circle cx="236.0" cy="389.0" r="2.6" fill="#0000ff" fill-opacity="0.34"/>
<circle cx="238.0" cy="401.6" r="2.6" fill="#0000ff" fill-opacity="0.34"/>
<circle cx="239.8" cy="414.5" r="2.6" fill="#0000ff" fill-opacity="0.34"/>
<circle cx="242.2" cy="428.5" r="2.6" fill="#0000ff" fill-opacity="0.34"/>
<circle cx="244.1" cy="436.2" r="2.6" fill="#0000ff" fill-opacity="0.34"/>
<circle cx="245.5" cy="453.6" r="2.6" fill="#0000ff" fill-opacity="0.34"/>
<circle cx="247.3" cy="471.5" r="2.6" fill="#0000ff" fill-opacity="0.34"/>
<circle cx="249.4" cy="482.6" r="2.6" fill="#0000ff" fill-opacity="0.34"/>
<circle cx="251.7" cy="491.4" r="2.6" fill="#0000ff" fill-opacity="0.34"/>
<circle cx="252.6" cy="495.8" r="2.6" fill="#0000ff" fill-opacity="0.34"/>
<circle cx="255.3" cy="498.1" r="2.6" fill="#0000ff" fill-opacity="0.34"/>
<circle cx="256.8" cy="504.9" r="2.6" fill="#0000ff" fill-opacity="0.34"/>
<circle cx="259.2" cy="502.7" r="2.6" fill="#0000ff" fill-opacity="0.34"/>
<circle cx="260.5" cy="497.9" r="2.6" fill="#0000ff" fill-opacity="0.34"/>
<circle cx="262.6" cy="493.3" r="2.6" fill="#0000ff" fill-opacity="0.34"/>
<circle cx="264.2" cy="488.2" r="2.6" fill="#0000ff" fill-opacity="0.34"/>
<circle cx="266.2" cy="478.7" r="2.6" fill="#0000ff" fill-opacity="0.34"/>
<circle cx="268.6" cy="466.3" r="2.6" fill="#0000ff" fill-opacity="0.34"/>
<circle cx="270.3" cy="456.8" r="2.6" fill="#0000ff" fill-opacity="0.34"/>
<circle cx="271.9" cy="450.5" r="2.6" fill="#0000ff" fill-opacity="0.34"/>
<circle cx="273.7" cy="440.4" r="2.6" fill="#0000ff" fill-opacity="0.34"/>
<circle cx="275.3" cy="432.4" r="2.6" fill="#0000ff" fill-opacity="0.34"/>
<circle cx="277.5" cy="429.2" r="2.6" fill="#0000ff" fill-opacity="0.34"/>
<circle cx="279.5" cy="424.9" r="2.6" fill="#0000ff" fill-opacity="0.34"/>
<circle cx="281.4" cy="424.5" r="2.6" fill="#0000ff" fill-opacity="0.34"/>
<circle cx="283.2" cy="420.3" r="2.6" fill="#0000ff" fill-opacity="0.34"/>
<circle cx="284.9" cy="423.4" r="2.6" fill="#0000ff" fill-opacity="0.34"/>
<circle cx="287.0" cy="429.3" r="2.6" fill="#0000ff" fill-opacity="0.34"/>
<circle cx="288.9" cy="436.7" r="2.6" fill="#0000ff" fill-opacity="0.34"/>
<circle cx="291.1" cy="442.1" r="2.6" fill="#0000ff" fill-opacity="0.34"/>
<circle cx="293.1" cy="453.8" r="2.6" fill="#0000ff" fill-opacity="0.34"/>
<circle cx="294.5" cy="464.8" r="2.6" fill="#0000ff" fill-opacity="0.34"/>
<circle cx="296.2" cy="473.9" r="2.6" fill="#0000ff" fill-opacity="0.34"/>
<circle cx="298.2" cy="485.5" r="2.6" fill="#0000ff" fill-opacity="0.34"/>
<circle cx="300.0" cy="488.1" r="2.6" fill="#0000ff" fill-opacity="0.34"/>
<circle cx="301.8" cy="499.4" r="2.6" fill="#0000ff" fill-opacity="0.34"/>
<circle cx="303.9" cy="499.6" r="2.6" fill="#0000ff" fill-opacity="0.34"/>
<circle cx="305.5" cy="498.2" r="2.6" fill="#0000ff" fill-opacity="0.34"/>
<polyline points="62.1,455.0 64.0,457.5 65.8,463.5 67.7,466.1 69.6,472.3 71.4,475.5 73.3,484.5 75.2,488.2 77.1,491.7 78.9,496.4 80.8,495.5 82.7,498.4 84.6,501.6 86.4,498.3 88.3,495.7 90.2,495.7 92.1,486.5 93.9,479.3 95.8,469.7 97.7,461.9 99.6,453.4 101.4,448.0 103.3,442.3 105.2,438.9 107.1,433.6 108.9,427.2 110.8,430.1 112.7,434.5 114.6,442.9 116.4,444.7 118.3,451.0 120.2,455.6 122.1,460.5 123.9,468.1 125.8,477.0 127.7,486.6 129.6,493.9 131.4,499.8 133.3,502.9 135.2,506.0 137.1,504.1 138.9,498.5 140.8,490.1 142.7,477.2 144.6,465.3 146.4,447.3 148.3,428.0 150.2,415.0 152.1,407.9 153.9,405.4 155.8,406.2 157.7,405.2 159.6,405.2 161.4,404.7 163.3,407.0 165.2,409.8 167.0,424.9 168.9,444.2 170.8,467.1 172.7,479.7 174.5,487.0 176.4,494.4 178.3,498.0 180.2,498.9 182.0,500.4 183.9,501.8 185.8,497.3 187.7,489.6 189.5,484.7 191.4,475.0 193.3,464.9 195.2,450.9 197.0,440.5 198.9,427.0 200.8,411.3 202.7,407.7 204.5,407.2 206.4,412.7 208.3,419.1 210.2,421.3 212.0,422.4 213.9,430.1 215.8,437.9 217.7,448.4 219.5,457.3 221.4,465.9 223.3,476.1 225.2,487.3 227.0,495.6 228.9,502.8 230.8,507.1 232.7,509.4 234.5,507.6 236.4,504.4 238.3,500.2 240.2,493.4 242.0,486.0 243.9,478.1 245.8,466.2 247.7,450.8 249.5,439.8 251.4,433.1 253.3,434.9 255.1,436.7 257.0,445.6 258.9,449.3 260.8,449.2 262.6,452.5 264.5,458.6 266.4,467.3 268.3,472.6 270.1,480.0 272.0,485.5 273.9,490.8 275.8,500.3 277.6,506.9 279.5,510.7 281.4,510.4 283.3,509.8 285.1,509.1 287.0,505.2 288.9,504.2 290.8,497.2 292.6,491.2 294.5,483.8 296.4,478.0 298.3,468.9 300.1,463.6 302.0,462.3 303.9,465.7 305.8,472.1" fill="none" stroke="#7ff0f0" stroke-width="0.9"/>
<circle cx="62.1" cy="455.0" r="2.5" fill="#00f8f8" fill-opacity="0.55"/>
<circle cx="64.0" cy="457.5" r="2.5" fill="#00f8f8" fill-opacity="0.55"/>
<circle cx="65.8" cy="463.5" r="2.5" fill="#00f8f8" fill-opacity="0.55"/>
<circle cx="67.7" cy="466.1" r="2.5" fill="#00f8f8" fill-opacity="0.55"/>
<circle cx="69.6" cy="472.3" r="2.5" fill="#00f8f8" fill-opacity="0.55"/>
<circle cx="71.4" cy="475.5" r="2.5" fill="#00f8f8" fill-opacity="0.55"/>
<circle cx="73.3" cy="484.5" r="2.5" fill="#00f8f8" fill-opacity="0.55"/>
<circle cx="75.2" cy="488.2" r="2.5" fill="#00f8f8" fill-opacity="0.55"/>
<circle cx="77.1" cy="491.7" r="2.5" fill="#00f8f8" fill-opacity="0.55"/>
<circle cx="78.9" cy="496.4" r="2.5" fill="#00f8f8" fill-opacity="0.55"/>
<circle cx="80.8" cy="495.5" r="2.5" fill="#00f8f8" fill-opacity="0.55"/>
<circle cx="82.7" cy="498.4" r="2.5" fill="#00f8f8" fill-opacity="0.55"/>
<circle cx="84.6" cy="501.6" r="2.5" fill="#00f8f8" fill-opacity="0.55"/>
<circle cx="86.4" cy="498.3" r="2.5" fill="#00f8f8" fill-opacity="0.55"/>
<circle cx="88.3" cy="495.7" r="2.5" fill="#00f8f8" fill-opacity="0.55"/>
<circle cx="90.2" cy="495.7" r="2.5" fill="#00f8f8" fill-opacity="0.55"/>
<circle cx="92.1" cy="486.5" r="2.5" fill="#00f8f8" fill-opacity="0.55"/>
<circle cx="93.9" cy="479.3" r="2.5" fill="#00f8f8" fill-opacity="0.55"/>
<circle cx="95.8" cy="469.7" r="2.5" fill="#00f8f8" fill-opacity="0.55"/>
<circle cx="97.7" cy="461.9" r="2.5" fill="#00f8f8" fill-opacity="0.55"/>
<circle cx="99.6" cy="453.4" r="2.5" fill="#00f8f8" fill-opacity="0.55"/>
<circle cx="101.4" cy="448.0" r="2.5" fill="#00f8f8" fill-opacity="0.55"/>
<circle cx="103.3" cy="442.3" r="2.5" fill="#00f8f8" fill-opacity="0.55"/>
<circle cx="105.2" cy="438.9" r="2.5" fill="#00f8f8" fill-opacity="0.55"/>
<circle cx="107.1" cy="433.6" r="2.5" fill="#00f8f8" fill-opacity="0.55"/>
<circle cx="108.9" cy="427.2" r="2.5" fill="#00f8f8" fill-opacity="0.55"/>
<circle cx="110.8" cy="430.1" r="2.5" fill="#00f8f8" fill-opacity="0.55"/>
<circle cx="112.7" cy="434.5" r="2.5" fill="#00f8f8" fill-opacity="0.55"/>
<circle cx="114.6" cy="442.9" r="2.5" fill="#00f8f8" fill-opacity="0.55"/>
<circle cx="116.4" cy="444.7" r="2.5" fill="#00f8f8" fill-opacity="0.55"/>
<circle cx="118.3" cy="451.0" r="2.5" fill="#00f8f8" fill-opacity="0.55"/>
<circle cx="120.2" cy="455.6" r="2.5" fill="#00f8f8" fill-opacity="0.55"/>
<circle cx="122.1" cy="460.5" r="2.5" fill="#00f8f8" fill-opacity="0.55"/>
<circle cx="123.9" cy="468.1" r="2.5" fill="#00f8f8" fill-opacity="0.55"/>
<circle cx="125.8" cy="477.0" r="2.5" fill="#00f8f8" fill-opacity="0.55"/>
<circle cx="127.7" cy="486.6" r="2.5" fill="#00f8f8" fill-opacity="0.55"/>
<circle cx="129.6" cy="493.9" r="2.5" fill="#00f8f8" fill-opacity="0.55"/>
<circle cx="131.4" cy="499.8" r="2.5" fill="#00f8f8" fill-opacity="0.55"/>
<circle cx="133.3" cy="502.9" r="2.5" fill="#00f8f8" fill-opacity="0.55"/>
<circle cx="135.2" cy="506.0" r="2.5" fill="#00f8f8" fill-opacity="0.55"/>
<circle cx="137.1" cy="504.1" r="2.5" fill="#00f8f8" fill-opacity="0.55"/>
<circle cx="138.9" cy="498.5" r="2.5" fill="#00f8f8" fill-opacity="0.55"/>
<circle cx="140.8" cy="490.1" r="2.5" fill="#00f8f8" fill-opacity="0.55"/>
<circle cx="142.7" cy="477.2" r="2.5" fill="#00f8f8" fill-opacity="0.55"/>
<circle cx="144.6" cy="465.3" r="2.5" fill="#00f8f8" fill-opacity="0.55"/>
<circle cx="146.4" cy="447.3" r="2.5" fill="#00f8f8" fill-opacity="0.55"/>
<circle cx="148.3" cy="428.0" r="2.5" fill="#00f8f8" fill-opacity="0.55"/>
<circle cx="150.2" cy="415.0" r="2.5" fill="#00f8f8" fill-opacity="0.55"/>
<circle cx="152.1" cy="407.9" r="2.5" fill="#00f8f8" fill-opacity="0.55"/>
<circle cx="153.9" cy="405.4" r="2.5" fill="#00f8f8" fill-opacity="0.55"/>
<circle cx="155.8" cy="406.2" r="2.5" fill="#00f8f8" fill-opacity="0.55"/>
<circle cx="157.7" cy="405.2" r="2.5" fill="#00f8f8" fill-opacity="0.55"/>
<circle cx="159.6" cy="405.2" r="2.5" fill="#00f8f8" fill-opacity="0.55"/>
<circle cx="161.4" cy="404.7" r="2.5" fill="#00f8f8" fill-opacity="0.55"/>
<circle cx="163.3" cy="407.0" r="2.5" fill="#00f8f8" fill-opacity="0.55"/>
<circle cx="165.2" cy="409.8" r="2.5" fill="#00f8f8" fill-opacity="0.55"/>
<circle cx="167.0" cy="424.9" r="2.5" fill="#00f8f8" fill-opacity="0.55"/>
<circle cx="168.9" cy="444.2" r="2.5" fill="#00f8f8" fill-opacity="0.55"/>
<circle cx="170.8" cy="467.1" r="2.5" fill="#00f8f8" fill-opacity="0.55"/>
<circle cx="172.7" cy="479.7" r="2.5" fill="#00f8f8" fill-opacity="0.55"/>
<circle cx="174.5" cy="487.0" r="2.5" fill="#00f8f8" fill-opacity="0.55"/>
<circle cx="176.4" cy="494.4" r="2.5" fill="#00f8f8" fill-opacity="0.55"/>
<circle cx="178.3" cy="498.0" r="2.5" fill="#00f8f8" fill-opacity="0.55"/>
<circle cx="180.2" cy="498.9" r="2.5" fill="#00f8f8" fill-opacity="0.55"/>
<circle cx="182.0" cy="500.4" r="2.5" fill="#00f8f8" fill-opacity="0.55"/>
<circle cx="183.9" cy="501.8" r="2.5" fill="#00f8f8" fill-opacity="0.55"/>
<circle cx="185.8" cy="497.3" r="2.5" fill="#00f8f8" fill-opacity="0.55"/>
<circle cx="187.7" cy="489.6" r="2.5" fill="#00f8f8" fill-opacity="0.55"/>
<circle cx="189.5" cy="484.7" r="2.5" fill="#00f8f8" fill-opacity="0.55"/>
<circle cx="191.4" cy="475.0" r="2.5" fill="#00f8f8" fill-opacity="0.55"/>
<circle cx="193.3" cy="464.9" r="2.5" fill="#00f8f8" fill-opacity="0.55"/>
<circle cx="195.2" cy="450.9" r="2.5" fill="#00f8f8" fill-opacity="0.55"/>
<circle cx="197.0" cy="440.5" r="2.5" fill="#00f8f8" fill-opacity="0.55"/>
<circle cx="198.9" cy="427.0" r="2.5" fill="#00f8f8" fill-opacity="0.55"/>
<circle cx="200.8" cy="411.3" r="2.5" fill="#00f8f8" fill-opacity="0.55"/>
<circle cx="202.7" cy="407.7" r="2.5" fill="#00f8f8" fill-opacity="0.55"/>
<circle cx="204.5" cy="407.2" r="2.5" fill="#00f8f8" fill-opacity="0.55"/>
<circle cx="206.4" cy="412.7" r="2.5" fill="#00f8f8" fill-opacity="0.55"/>
<circle cx="208.3" cy="419.1" r="2.5" fill="#00f8f8" fill-opacity="0.55"/>
<circle cx="210.2" cy="421.3" r="2.5" fill="#00f8f8" fill-opacity="0.55"/>
<circle cx="212.0" cy="422.4" r="2.5" fill="#00f8f8" fill-opacity="0.55"/>
<circle cx="213.9" cy="430.1" r="2.5" fill="#00f8f8" fill-opacity="0.55"/>
<circle cx="215.8" cy="437.9" r="2.5" fill="#00f8f8" fill-opacity="0.55"/>
<circle cx="217.7" cy="448.4" r="2.5" fill="#00f8f8" fill-opacity="0.55"/>
<circle cx="219.5" cy="457.3" r="2.5" fill="#00f8f8" fill-opacity="0.55"/>
<circle cx="221.4" cy="465.9" r="2.5" fill="#00f8f8" fill-opacity="0.55"/>
<circle cx="223.3" cy="476.1" r="2.5" fill="#00f8f8" fill-opacity="0.55"/>
<circle cx="225.2" cy="487.3" r="2.5" fill="#00f8f8" fill-opacity="0.55"/>
<circle cx="227.0" cy="495.6" r="2.5" fill="#00f8f8" fill-opacity="0.55"/>
<circle cx="228.9" cy="502.8" r="2.5" fill="#00f8f8" fill-opacity="0.55"/>
<circle cx="230.8" cy="507.1" r="2.5" fill="#00f8f8" fill-opacity="0.55"/>
<circle cx="232.7" cy="509.4" r="2.5" fill="#00f8f8" fill-opacity="0.55"/>
<circle cx="234.5" cy="507.6" r="2.5" fill="#00f8f8" fill-opacity="0.55"/>
<circle cx="236.4" cy="504.4" r="2.5" fill="#00f8f8" fill-opacity="0.55"/>
<circle cx="238.3" cy="500.2" r="2.5" fill="#00f8f8" fill-opacity="0.55"/>
<circle cx="240.2" cy="493.4" r="2.5" fill="#00f8f8" fill-opacity="0.55"/>
<circle cx="242.0" cy="486.0" r="2.5" fill="#00f8f8" fill-opacity="0.55"/>
<circle cx="243.9" cy="478.1" r="2.5" fill="#00f8f8" fill-opacity="0.55"/>
<circle cx="245.8" cy="466.2" r="2.5" fill="#00f8f8" fill-opacity="0.55"/>
<circle cx="247.7" cy="450.8" r="2.5" fill="#00f8f8" fill-opacity="0.55"/>
<circle cx="249.5" cy="439.8" r="2.5" fill="#00f8f8" fill-opacity="0.55"/>
<circle cx="251.4" cy="433.1" r="2.5" fill="#00f8f8" fill-opacity="0.55"/>
<circle cx="253.3" cy="434.9" r="2.5" fill="#00f8f8" fill-opacity="0.55"/>
<circle cx="255.1" cy="436.7" r="2.5" fill="#00f8f8" fill-opacity="0.55"/>
<circle cx="257.0" cy="445.6" r="2.5" fill="#00f8f8" fill-opacity="0.55"/>
<circle cx="258.9" cy="449.3" r="2.5" fill="#00f8f8" fill-opacity="0.55"/>
<circle cx="260.8" cy="449.2" r="2.5" fill="#00f8f8" fill-opacity="0.55"/>
<circle cx="262.6" cy="452.5" r="2.5" fill="#00f8f8" fill-opacity="0.55"/>
<circle cx="264.5" cy="458.6" r="2.5" fill="#00f8f8" fill-opacity="0.55"/>
<circle cx="266.4" cy="467.3" r="2.5" fill="#00f8f8" fill-opacity="0.55"/>
<circle cx="268.3" cy="472.6" r="2.5" fill="#00f8f8" fill-opacity="0.55"/>
<circle cx="270.1" cy="480.0" r="2.5" fill="#00f8f8" fill-opacity="0.55"/>
<circle cx="272.0" cy="485.5" r="2.5" fill="#00f8f8" fill-opacity="0.55"/>
<circle cx="273.9" cy="490.8" r="2.5" fill="#00f8f8" fill-opacity="0.55"/>
<circle cx="275.8" cy="500.3" r="2.5" fill="#00f8f8" fill-opacity="0.55"/>
<circle cx="277.6" cy="506.9" r="2.5" fill="#00f8f8" fill-opacity="0.55"/>
<circle cx="279.5" cy="510.7" r="2.5" fill="#00f8f8" fill-opacity="0.55"/>
<circle cx="281.4" cy="510.4" r="2.5" fill="#00f8f8" fill-opacity="0.55"/>
<circle cx="283.3" cy="509.8" r="2.5" fill="#00f8f8" fill-opacity="0.55"/>
<circle cx="285.1" cy="509.1" r="2.5" fill="#00f8f8" fill-opacity="0.55"/>
<circle cx="287.0" cy="505.2" r="2.5" fill="#00f8f8" fill-opacity="0.55"/>
<circle cx="288.9" cy="504.2" r="2.5" fill="#00f8f8" fill-opacity="0.55"/>
<circle cx="290.8" cy="497.2" r="2.5" fill="#00f8f8" fill-opacity="0.55"/>
<circle cx="292.6" cy="491.2" r="2.5" fill="#00f8f8" fill-opacity="0.55"/>
<circle cx="294.5" cy="483.8" r="2.5" fill="#00f8f8" fill-opacity="0.55"/>
<circle cx="296.4" cy="478.0" r="2.5" fill="#00f8f8" fill-opacity="0.55"/>
<circle cx="298.3" cy="468.9" r="2.5" fill="#00f8f8" fill-opacity="0.55"/>
<circle cx="300.1" cy="463.6" r="2.5" fill="#00f8f8" fill-opacity="0.55"/>
<circle cx="302.0" cy="462.3" r="2.5" fill="#00f8f8" fill-opacity="0.55"/>
<circle cx="303.9" cy="465.7" r="2.5" fill="#00f8f8" fill-opacity="0.55"/>
<circle cx="305.8" cy="472.1" r="2.5" fill="#00f8f8" fill-opacity="0.55"/>
<polyline points="62.1,443.2 64.0,442.9 65.8,445.2 67.7,443.3 69.6,445.9 71.4,451.0 73.3,454.5 75.2,457.6 77.1,461.4 78.9,461.0 80.8,465.1 82.7,466.4 84.6,468.8 86.4,468.9 88.3,469.1 90.2,463.7 92.1,461.3 93.9,453.3 95.8,448.0 97.7,444.5 99.6,441.6 101.4,439.6 103.3,436.2 105.2,433.4 107.1,429.2 108.9,427.2 110.8,426.0 112.7,425.0 114.6,430.4 116.4,432.2 118.3,431.4 120.2,431.1 122.1,436.3 123.9,437.3 125.8,442.1 127.7,448.5 129.6,450.3 131.4,456.4 133.3,460.0 135.2,461.6 137.1,456.9 138.9,451.8 140.8,443.2 142.7,438.1 144.6,434.7 146.4,426.0 148.3,417.4 150.2,404.7 152.1,399.6 153.9,400.1 155.8,400.5 157.7,398.3 159.6,398.8 161.4,397.8 163.3,396.3 165.2,396.1 167.0,402.7 168.9,411.8 170.8,421.7 172.7,431.2 174.5,435.8 176.4,440.8 178.3,444.1 180.2,443.7 182.0,443.7 183.9,444.2 185.8,445.4 187.7,448.1 189.5,443.0 191.4,439.8 193.3,428.9 195.2,423.2 197.0,416.8 198.9,406.3 200.8,396.7 202.7,396.4 204.5,402.1 206.4,406.6 208.3,413.5 210.2,413.1 212.0,412.5 213.9,417.8 215.8,421.1 217.7,421.0 219.5,425.7 221.4,432.9 223.3,439.9 225.2,446.1 227.0,450.8 228.9,454.4 230.8,461.5 232.7,465.1 234.5,460.9 236.4,459.1 238.3,456.1 240.2,454.3 242.0,449.0 243.9,445.8 245.8,443.8 247.7,439.3 249.5,434.0 251.4,426.3 253.3,427.5 255.1,433.7 257.0,445.2 258.9,442.3 260.8,441.1 262.6,441.8 264.5,447.8 266.4,451.3 268.3,453.8 270.1,458.7 272.0,462.4 273.9,467.0 275.8,469.0 277.6,473.7 279.5,478.7 281.4,477.2 283.3,476.9 285.1,475.4 287.0,470.1 288.9,468.2 290.8,470.6 292.6,470.9 294.5,467.0 296.4,458.7 298.3,454.8 300.1,453.6 302.0,457.6 303.9,462.6 305.8,462.8" fill="none" stroke="#ff3030" stroke-width="0.9"/>
<circle cx="62.1" cy="443.2" r="2.65" fill="url(#gred)"/>
<circle cx="64.0" cy="442.9" r="2.65" fill="url(#gred)"/>
<circle cx="65.8" cy="445.2" r="2.65" fill="url(#gred)"/>
<circle cx="67.7" cy="443.3" r="2.65" fill="url(#gred)"/>
<circle cx="69.6" cy="445.9" r="2.65" fill="url(#gred)"/>
<circle cx="71.4" cy="451.0" r="2.65" fill="url(#gred)"/>
<circle cx="73.3" cy="454.5" r="2.65" fill="url(#gred)"/>
<circle cx="75.2" cy="457.6" r="2.65" fill="url(#gred)"/>
<circle cx="77.1" cy="461.4" r="2.65" fill="url(#gred)"/>
<circle cx="78.9" cy="461.0" r="2.65" fill="url(#gred)"/>
<circle cx="80.8" cy="465.1" r="2.65" fill="url(#gred)"/>
<circle cx="82.7" cy="466.4" r="2.65" fill="url(#gred)"/>
<circle cx="84.6" cy="468.8" r="2.65" fill="url(#gred)"/>
<circle cx="86.4" cy="468.9" r="2.65" fill="url(#gred)"/>
<circle cx="88.3" cy="469.1" r="2.65" fill="url(#gred)"/>
<circle cx="90.2" cy="463.7" r="2.65" fill="url(#gred)"/>
<circle cx="92.1" cy="461.3" r="2.65" fill="url(#gred)"/>
<circle cx="93.9" cy="453.3" r="2.65" fill="url(#gred)"/>
<circle cx="95.8" cy="448.0" r="2.65" fill="url(#gred)"/>
<circle cx="97.7" cy="444.5" r="2.65" fill="url(#gred)"/>
<circle cx="99.6" cy="441.6" r="2.65" fill="url(#gred)"/>
<circle cx="101.4" cy="439.6" r="2.65" fill="url(#gred)"/>
<circle cx="103.3" cy="436.2" r="2.65" fill="url(#gred)"/>
<circle cx="105.2" cy="433.4" r="2.65" fill="url(#gred)"/>
<circle cx="107.1" cy="429.2" r="2.65" fill="url(#gred)"/>
<circle cx="108.9" cy="427.2" r="2.65" fill="url(#gred)"/>
<circle cx="110.8" cy="426.0" r="2.65" fill="url(#gred)"/>
<circle cx="112.7" cy="425.0" r="2.65" fill="url(#gred)"/>
<circle cx="114.6" cy="430.4" r="2.65" fill="url(#gred)"/>
<circle cx="116.4" cy="432.2" r="2.65" fill="url(#gred)"/>
<circle cx="118.3" cy="431.4" r="2.65" fill="url(#gred)"/>
<circle cx="120.2" cy="431.1" r="2.65" fill="url(#gred)"/>
<circle cx="122.1" cy="436.3" r="2.65" fill="url(#gred)"/>
<circle cx="123.9" cy="437.3" r="2.65" fill="url(#gred)"/>
<circle cx="125.8" cy="442.1" r="2.65" fill="url(#gred)"/>
<circle cx="127.7" cy="448.5" r="2.65" fill="url(#gred)"/>
<circle cx="129.6" cy="450.3" r="2.65" fill="url(#gred)"/>
<circle cx="131.4" cy="456.4" r="2.65" fill="url(#gred)"/>
<circle cx="133.3" cy="460.0" r="2.65" fill="url(#gred)"/>
<circle cx="135.2" cy="461.6" r="2.65" fill="url(#gred)"/>
<circle cx="137.1" cy="456.9" r="2.65" fill="url(#gred)"/>
<circle cx="138.9" cy="451.8" r="2.65" fill="url(#gred)"/>
<circle cx="140.8" cy="443.2" r="2.65" fill="url(#gred)"/>
<circle cx="142.7" cy="438.1" r="2.65" fill="url(#gred)"/>
<circle cx="144.6" cy="434.7" r="2.65" fill="url(#gred)"/>
<circle cx="146.4" cy="426.0" r="2.65" fill="url(#gred)"/>
<circle cx="148.3" cy="417.4" r="2.65" fill="url(#gred)"/>
<circle cx="150.2" cy="404.7" r="2.65" fill="url(#gred)"/>
<circle cx="152.1" cy="399.6" r="2.65" fill="url(#gred)"/>
<circle cx="153.9" cy="400.1" r="2.65" fill="url(#gred)"/>
<circle cx="155.8" cy="400.5" r="2.65" fill="url(#gred)"/>
<circle cx="157.7" cy="398.3" r="2.65" fill="url(#gred)"/>
<circle cx="159.6" cy="398.8" r="2.65" fill="url(#gred)"/>
<circle cx="161.4" cy="397.8" r="2.65" fill="url(#gred)"/>
<circle cx="163.3" cy="396.3" r="2.65" fill="url(#gred)"/>
<circle cx="165.2" cy="396.1" r="2.65" fill="url(#gred)"/>
<circle cx="167.0" cy="402.7" r="2.65" fill="url(#gred)"/>
<circle cx="168.9" cy="411.8" r="2.65" fill="url(#gred)"/>
<circle cx="170.8" cy="421.7" r="2.65" fill="url(#gred)"/>
<circle cx="172.7" cy="431.2" r="2.65" fill="url(#gred)"/>
<circle cx="174.5" cy="435.8" r="2.65" fill="url(#gred)"/>
<circle cx="176.4" cy="440.8" r="2.65" fill="url(#gred)"/>
<circle cx="178.3" cy="444.1" r="2.65" fill="url(#gred)"/>
<circle cx="180.2" cy="443.7" r="2.65" fill="url(#gred)"/>
<circle cx="182.0" cy="443.7" r="2.65" fill="url(#gred)"/>
<circle cx="183.9" cy="444.2" r="2.65" fill="url(#gred)"/>
<circle cx="185.8" cy="445.4" r="2.65" fill="url(#gred)"/>
<circle cx="187.7" cy="448.1" r="2.65" fill="url(#gred)"/>
<circle cx="189.5" cy="443.0" r="2.65" fill="url(#gred)"/>
<circle cx="191.4" cy="439.8" r="2.65" fill="url(#gred)"/>
<circle cx="193.3" cy="428.9" r="2.65" fill="url(#gred)"/>
<circle cx="195.2" cy="423.2" r="2.65" fill="url(#gred)"/>
<circle cx="197.0" cy="416.8" r="2.65" fill="url(#gred)"/>
<circle cx="198.9" cy="406.3" r="2.65" fill="url(#gred)"/>
<circle cx="200.8" cy="396.7" r="2.65" fill="url(#gred)"/>
<circle cx="202.7" cy="396.4" r="2.65" fill="url(#gred)"/>
<circle cx="204.5" cy="402.1" r="2.65" fill="url(#gred)"/>
<circle cx="206.4" cy="406.6" r="2.65" fill="url(#gred)"/>
<circle cx="208.3" cy="413.5" r="2.65" fill="url(#gred)"/>
<circle cx="210.2" cy="413.1" r="2.65" fill="url(#gred)"/>
<circle cx="212.0" cy="412.5" r="2.65" fill="url(#gred)"/>
<circle cx="213.9" cy="417.8" r="2.65" fill="url(#gred)"/>
<circle cx="215.8" cy="421.1" r="2.65" fill="url(#gred)"/>
<circle cx="217.7" cy="421.0" r="2.65" fill="url(#gred)"/>
<circle cx="219.5" cy="425.7" r="2.65" fill="url(#gred)"/>
<circle cx="221.4" cy="432.9" r="2.65" fill="url(#gred)"/>
<circle cx="223.3" cy="439.9" r="2.65" fill="url(#gred)"/>
<circle cx="225.2" cy="446.1" r="2.65" fill="url(#gred)"/>
<circle cx="227.0" cy="450.8" r="2.65" fill="url(#gred)"/>
<circle cx="228.9" cy="454.4" r="2.65" fill="url(#gred)"/>
<circle cx="230.8" cy="461.5" r="2.65" fill="url(#gred)"/>
<circle cx="232.7" cy="465.1" r="2.65" fill="url(#gred)"/>
<circle cx="234.5" cy="460.9" r="2.65" fill="url(#gred)"/>
<circle cx="236.4" cy="459.1" r="2.65" fill="url(#gred)"/>
<circle cx="238.3" cy="456.1" r="2.65" fill="url(#gred)"/>
<circle cx="240.2" cy="454.3" r="2.65" fill="url(#gred)"/>
<circle cx="242.0" cy="449.0" r="2.65" fill="url(#gred)"/>
<circle cx="243.9" cy="445.8" r="2.65" fill="url(#gred)"/>
<circle cx="245.8" cy="443.8" r="2.65" fill="url(#gred)"/>
<circle cx="247.7" cy="439.3" r="2.65" fill="url(#gred)"/>
<circle cx="249.5" cy="434.0" r="2.65" fill="url(#gred)"/>
<circle cx="251.4" cy="426.3" r="2.65" fill="url(#gred)"/>
<circle cx="253.3" cy="427.5" r="2.65" fill="url(#gred)"/>
<circle cx="255.1" cy="433.7" r="2.65" fill="url(#gred)"/>
<circle cx="257.0" cy="445.2" r="2.65" fill="url(#gred)"/>
<circle cx="258.9" cy="442.3" r="2.65" fill="url(#gred)"/>
<circle cx="260.8" cy="441.1" r="2.65" fill="url(#gred)"/>
<circle cx="262.6" cy="441.8" r="2.65" fill="url(#gred)"/>
<circle cx="264.5" cy="447.8" r="2.65" fill="url(#gred)"/>
<circle cx="266.4" cy="451.3" r="2.65" fill="url(#gred)"/>
<circle cx="268.3" cy="453.8" r="2.65" fill="url(#gred)"/>
<circle cx="270.1" cy="458.7" r="2.65" fill="url(#gred)"/>
<circle cx="272.0" cy="462.4" r="2.65" fill="url(#gred)"/>
<circle cx="273.9" cy="467.0" r="2.65" fill="url(#gred)"/>
<circle cx="275.8" cy="469.0" r="2.65" fill="url(#gred)"/>
<circle cx="277.6" cy="473.7" r="2.65" fill="url(#gred)"/>
<circle cx="279.5" cy="478.7" r="2.65" fill="url(#gred)"/>
<circle cx="281.4" cy="477.2" r="2.65" fill="url(#gred)"/>
<circle cx="283.3" cy="476.9" r="2.65" fill="url(#gred)"/>
<circle cx="285.1" cy="475.4" r="2.65" fill="url(#gred)"/>
<circle cx="287.0" cy="470.1" r="2.65" fill="url(#gred)"/>
<circle cx="288.9" cy="468.2" r="2.65" fill="url(#gred)"/>
<circle cx="290.8" cy="470.6" r="2.65" fill="url(#gred)"/>
<circle cx="292.6" cy="470.9" r="2.65" fill="url(#gred)"/>
<circle cx="294.5" cy="467.0" r="2.65" fill="url(#gred)"/>
<circle cx="296.4" cy="458.7" r="2.65" fill="url(#gred)"/>
<circle cx="298.3" cy="454.8" r="2.65" fill="url(#gred)"/>
<circle cx="300.1" cy="453.6" r="2.65" fill="url(#gred)"/>
<circle cx="302.0" cy="457.6" r="2.65" fill="url(#gred)"/>
<circle cx="303.9" cy="462.6" r="2.65" fill="url(#gred)"/>
<circle cx="305.8" cy="462.8" r="2.65" fill="url(#gred)"/>
</g>
<g clip-path="url(#clipd)">
<polygon points="437.0,515.5 437.05,515.60 437.21,515.60 437.38,515.60 437.54,515.60 437.70,515.60 437.87,515.60 438.03,515.60 438.19,515.60 438.35,515.60 438.52,515.60 438.68,515.60 438.84,515.60 439.01,515.60 439.17,515.60 439.33,515.60 439.50,515.60 439.66,515.60 439.82,515.60 439.99,515.60 440.15,515.60 440.31,515.60 440.48,515.60 440.64,515.60 440.80,515.60 440.96,515.60 441.13,515.60 441.29,515.60 441.45,515.60 441.62,515.60 441.78,515.60 441.94,515.60 442.11,515.60 442.27,515.60 442.43,515.60 442.60,515.60 442.76,515.60 442.92,515.60 443.09,515.60 443.25,515.60 443.41,515.60 443.57,515.60 443.74,515.60 443.90,515.60 444.06,515.60 444.23,515.60 444.39,515.60 444.55,515.60 444.72,515.60 444.88,515.60 445.04,515.60 445.21,515.60 445.37,515.60 445.53,515.60 445.69,515.59 445.86,515.59 446.02,515.59 446.18,515.59 446.35,515.59 446.51,515.59 446.67,515.59 446.84,515.59 447.00,515.59 447.16,515.59 447.33,515.58 447.49,515.58 447.65,515.58 447.82,515.58 447.98,515.58 448.14,515.57 448.30,515.57 448.47,515.57 448.63,515.57 448.79,515.56 448.96,515.56 449.12,515.56 449.28,515.55 449.45,515.55 449.61,515.54 449.77,515.54 449.94,515.53 450.10,515.53 450.26,515.52 450.42,515.51 450.59,515.51 450.75,515.50 450.91,515.49 451.08,515.48 451.24,515.47 451.40,515.46 451.57,515.45 451.73,515.44 451.89,515.43 452.06,515.41 452.22,515.40 452.38,515.38 452.55,515.36 452.71,515.34 452.87,515.32 453.03,515.29 453.20,515.26 453.36,515.22 453.52,515.18 453.69,515.13 453.85,515.07 454.01,515.00 454.18,514.92 454.34,514.82 454.50,514.71 454.67,514.57 454.83,514.41 454.99,514.22 455.16,514.00 455.32,513.75 455.48,513.45 455.64,513.11 455.81,512.72 455.97,512.27 456.13,511.77 456.30,511.20 456.46,510.57 456.62,509.88 456.79,509.12 456.95,508.29 457.11,507.40 457.28,506.45 457.44,505.44 457.60,504.39 457.76,503.29 457.93,502.16 458.09,501.02 458.25,499.86 458.42,498.72 458.58,497.61 458.74,496.53 458.91,495.52 459.07,494.58 459.23,493.72 459.40,492.98 459.56,492.35 459.72,491.86 459.89,491.50 460.05,491.29 460.21,491.23 460.37,491.32 460.54,491.55 460.70,491.94 460.86,492.46 461.03,493.11 461.19,493.88 461.35,494.75 461.52,495.70 461.68,496.73 461.84,497.82 462.01,498.94 462.17,500.08 462.33,501.23 462.49,502.38 462.66,503.50 462.82,504.59 462.98,505.64 463.15,506.64 463.31,507.58 463.47,508.46 463.64,509.27 463.80,510.02 463.96,510.70 464.13,511.31 464.29,511.87 464.45,512.36 464.62,512.79 464.78,513.18 464.94,513.51 465.10,513.80 465.27,514.05 465.43,514.26 465.59,514.44 465.76,514.60 465.92,514.73 466.08,514.84 466.25,514.94 466.41,515.02 466.57,515.08 466.74,515.14 466.90,515.19 467.06,515.23 467.23,515.26 467.39,515.30 467.55,515.32 467.71,515.34 467.88,515.36 468.04,515.38 468.20,515.40 468.37,515.41 468.53,515.43 468.69,515.44 468.86,515.45 469.02,515.46 469.18,515.47 469.35,515.48 469.51,515.49 469.67,515.50 469.83,515.51 470.00,515.51 470.16,515.52 470.32,515.53 470.49,515.53 470.65,515.54 470.81,515.54 470.98,515.55 471.14,515.55 471.30,515.56 471.47,515.56 471.63,515.56 471.79,515.57 471.96,515.57 472.12,515.57 472.28,515.58 472.44,515.58 472.61,515.58 472.77,515.58 472.93,515.58 473.10,515.59 473.26,515.59 473.42,515.59 473.59,515.59 473.75,515.59 473.91,515.59 474.08,515.59 474.24,515.59 474.40,515.59 474.57,515.59 474.73,515.60 474.89,515.60 475.05,515.60 475.22,515.60 475.38,515.60 475.54,515.60 475.71,515.60 475.87,515.60 476.03,515.60 476.20,515.60 476.36,515.60 476.52,515.60 476.69,515.60 476.85,515.60 477.01,515.60 477.17,515.60 477.34,515.60 477.50,515.60 477.66,515.60 477.83,515.60 477.99,515.60 478.15,515.60 478.32,515.60 478.48,515.60 478.64,515.60 478.81,515.60 478.97,515.60 479.13,515.60 479.30,515.60 479.46,515.60 479.62,515.60 479.78,515.60 479.95,515.60 480.11,515.60 480.27,515.60 480.44,515.60 480.60,515.60 480.76,515.60 480.93,515.60 481.09,515.60 481.25,515.60 481.42,515.60 481.58,515.60 481.74,515.60 481.90,515.60 482.07,515.60 482.23,515.60 482.39,515.60 482.56,515.60 482.72,515.60 482.88,515.60 483.05,515.60 483.21,515.60 483.37,515.60 483.54,515.60 483.70,515.60 483.86,515.60 484.03,515.60 484.19,515.60 484.35,515.60 484.51,515.60 484.68,515.60 484.84,515.60 485.00,515.60 485.17,515.60 485.33,515.60 485.49,515.60 485.66,515.60 485.82,515.60 485.98,515.60 486.15,515.60 486.31,515.60 486.47,515.60 486.64,515.60 486.80,515.60 486.96,515.60 487.12,515.60 487.29,515.60 487.45,515.60 487.61,515.60 487.78,515.60 487.94,515.60 488.10,515.60 488.27,515.60 488.43,515.60 488.59,515.60 488.76,515.60 488.92,515.60 489.08,515.60 489.24,515.60 489.41,515.60 489.57,515.60 489.73,515.60 489.90,515.60 490.06,515.60 490.22,515.60 490.39,515.60 490.55,515.60 490.71,515.60 490.88,515.60 491.04,515.60 491.20,515.60 491.37,515.60 491.53,515.60 491.69,515.60 491.85,515.60 492.02,515.60 492.18,515.60 492.34,515.60 492.51,515.60 492.67,515.59 492.83,515.59 493.00,515.59 493.16,515.59 493.32,515.59 493.49,515.59 493.65,515.59 493.81,515.59 493.97,515.58 494.14,515.58 494.30,515.58 494.46,515.58 494.63,515.57 494.79,515.57 494.95,515.57 495.12,515.56 495.28,515.56 495.44,515.55 495.61,515.55 495.77,515.54 495.93,515.54 496.10,515.53 496.26,515.52 496.42,515.51 496.58,515.50 496.75,515.49 496.91,515.48 497.07,515.47 497.24,515.46 497.40,515.44 497.56,515.43 497.73,515.41 497.89,515.39 498.05,515.37 498.22,515.35 498.38,515.33 498.54,515.31 498.71,515.28 498.87,515.25 499.03,515.22 499.19,515.19 499.36,515.16 499.52,515.12 499.68,515.08 499.85,515.04 500.01,514.99 500.17,514.95 500.34,514.89 500.50,514.84 500.66,514.78 500.83,514.71 500.99,514.64 501.15,514.57 501.31,514.48 501.48,514.39 501.64,514.28 501.80,514.16 501.97,514.02 502.13,513.86 502.29,513.67 502.46,513.46 502.62,513.20 502.78,512.90 502.95,512.54 503.11,512.12 503.27,511.61 503.44,511.02 503.60,510.31 503.76,509.49 503.92,508.51 504.09,507.38 504.25,506.05 504.41,504.52 504.58,502.76 504.74,500.75 504.90,498.47 505.07,495.89 505.23,493.01 505.39,489.80 505.56,486.27 505.72,482.40 505.88,478.21 506.04,473.69 506.21,468.87 506.37,463.78 506.53,458.45 506.70,452.93 506.86,447.27 507.02,441.53 507.19,435.77 507.35,430.08 507.51,424.54 507.68,419.22 507.84,414.21 508.00,409.59 508.17,405.43 508.33,401.82 508.49,398.81 508.65,396.46 508.82,394.82 508.98,393.91 509.14,393.76 509.31,394.36 509.47,395.70 509.63,397.76 509.80,400.51 509.96,403.88 510.12,407.82 510.29,412.26 510.45,417.12 510.61,422.32 510.78,427.79 510.94,433.42 511.10,439.16 511.26,444.92 511.43,450.62 511.59,456.21 511.75,461.62 511.92,466.81 512.08,471.75 512.24,476.39 512.41,480.72 512.57,484.72 512.73,488.39 512.90,491.73 513.06,494.75 513.22,497.45 513.38,499.85 513.55,501.97 513.71,503.83 513.87,505.45 514.04,506.86 514.20,508.07 514.36,509.11 514.53,509.99 514.69,510.74 514.85,511.38 515.02,511.92 515.18,512.37 515.34,512.76 515.51,513.08 515.67,513.36 515.83,513.59 515.99,513.79 516.16,513.96 516.32,514.10 516.48,514.23 516.65,514.34 516.81,514.44 516.97,514.53 517.14,514.61 517.30,514.69 517.46,514.75 517.63,514.81 517.79,514.87 517.95,514.92 518.12,514.97 518.28,515.02 518.44,515.06 518.60,515.10 518.77,515.14 518.93,515.18 519.09,515.21 519.26,515.24 519.42,515.27 519.58,515.30 519.75,515.32 519.91,515.34 520.07,515.37 520.24,515.39 520.40,515.40 520.56,515.42 520.72,515.44 520.89,515.45 521.05,515.47 521.21,515.48 521.38,515.49 521.54,515.50 521.70,515.51 521.87,515.52 522.03,515.53 522.19,515.53 522.36,515.54 522.52,515.55 522.68,515.55 522.85,515.56 523.01,515.56 523.17,515.57 523.33,515.57 523.50,515.57 523.66,515.58 523.82,515.58 523.99,515.58 524.15,515.58 524.31,515.59 524.48,515.59 524.64,515.59 524.80,515.59 524.97,515.59 525.13,515.59 525.29,515.59 525.45,515.59 525.62,515.59 525.78,515.60 525.94,515.60 526.11,515.60 526.27,515.60 526.43,515.60 526.60,515.60 526.76,515.60 526.92,515.60 527.09,515.60 527.25,515.60 527.41,515.60 527.58,515.60 527.74,515.60 527.90,515.60 528.06,515.60 528.23,515.60 528.39,515.60 528.55,515.60 528.72,515.60 528.88,515.60 529.04,515.60 529.21,515.60 529.37,515.60 529.53,515.60 529.70,515.60 529.86,515.60 530.02,515.60 530.19,515.60 530.35,515.60 530.51,515.60 530.67,515.60 530.84,515.60 531.00,515.60 531.16,515.60 531.33,515.60 531.49,515.60 531.65,515.60 531.82,515.60 531.98,515.60 532.14,515.60 532.31,515.60 532.47,515.60 532.63,515.60 532.79,515.60 532.96,515.60 533.12,515.60 533.28,515.60 533.45,515.60 533.61,515.60 533.77,515.60 533.94,515.60 534.10,515.60 534.26,515.60 534.43,515.60 534.59,515.60 534.75,515.60 534.92,515.60 535.08,515.60 535.24,515.60 535.40,515.60 535.57,515.60 535.73,515.60 535.89,515.60 536.06,515.60 536.22,515.60 536.38,515.60 536.55,515.60 536.71,515.60 536.87,515.60 537.04,515.60 537.20,515.60 537.36,515.60 537.52,515.60 537.69,515.60 537.85,515.60 538.01,515.60 538.18,515.60 538.34,515.60 538.50,515.60 538.67,515.60 538.83,515.60 538.99,515.60 539.16,515.60 539.32,515.60 539.48,515.59 539.65,515.59 539.81,515.59 539.97,515.59 540.13,515.59 540.30,515.59 540.46,515.59 540.62,515.59 540.79,515.58 540.95,515.58 541.11,515.58 541.28,515.57 541.44,515.57 541.60,515.57 541.77,515.56 541.93,515.56 542.09,515.55 542.26,515.54 542.42,515.54 542.58,515.53 542.74,515.52 542.91,515.51 543.07,515.49 543.23,515.48 543.40,515.47 543.56,515.45 543.72,515.43 543.89,515.41 544.05,515.39 544.21,515.36 544.38,515.33 544.54,515.30 544.70,515.27 544.86,515.23 545.03,515.19 545.19,515.14 545.35,515.09 545.52,515.04 545.68,514.98 545.84,514.92 546.01,514.85 546.17,514.77 546.33,514.69 546.50,514.60 546.66,514.50 546.82,514.39 546.99,514.28 547.15,514.16 547.31,514.02 547.47,513.88 547.64,513.73 547.80,513.56 547.96,513.39 548.13,513.20 548.29,513.00 548.45,512.79 548.62,512.56 548.78,512.31 548.94,512.05 549.11,511.77 549.27,511.47 549.43,511.15 549.60,510.80 549.76,510.42 549.92,510.01 550.08,509.55 550.25,509.05 550.41,508.49 550.57,507.86 550.74,507.14 550.90,506.32 551.06,505.37 551.23,504.27 551.39,502.97 551.55,501.45 551.72,499.65 551.88,497.52 552.04,494.99 552.20,492.00 552.37,488.45 552.53,484.26 552.69,479.33 552.86,473.55 553.02,466.80 553.18,458.95 553.35,449.88 553.51,439.47 553.67,427.58 553.84,414.09 554.00,398.91 554.16,381.94 554.33,363.10 554.49,342.36 554.65,319.70 554.81,300.00 554.98,300.00 555.14,300.00 555.30,300.00 555.47,300.00 555.63,300.00 555.79,300.00 555.96,300.00 556.12,300.00 556.28,300.00 556.45,300.00 556.61,300.00 556.77,300.00 556.93,300.00 557.10,300.00 557.26,300.00 557.42,300.00 557.59,300.00 557.75,300.00 557.91,300.00 558.08,300.00 558.24,300.00 558.40,300.00 558.57,300.00 558.73,300.00 558.89,300.00 559.06,300.00 559.22,300.00 559.38,300.00 559.54,300.00 559.71,300.00 559.87,300.00 560.03,300.00 560.20,300.00 560.36,300.00 560.52,300.00 560.69,300.00 560.85,300.00 561.01,300.00 561.18,300.00 561.34,319.45 561.50,342.13 561.67,362.89 561.83,381.75 561.99,398.74 562.15,413.94 562.32,427.44 562.48,439.35 562.64,449.78 562.81,458.86 562.97,466.72 563.13,473.48 563.30,479.28 563.46,484.21 563.62,488.41 563.79,491.96 563.95,494.96 564.11,497.49 564.27,499.63 564.44,501.43 564.60,502.96 564.76,504.25 564.93,505.36 565.09,506.31 565.25,507.13 565.42,507.85 565.58,508.48 565.74,509.05 565.91,509.55 566.07,510.00 566.23,510.42 566.40,510.80 566.56,511.15 566.72,511.47 566.88,511.77 567.05,512.05 567.21,512.31 567.37,512.56 567.54,512.79 567.70,513.00 567.86,513.20 568.03,513.39 568.19,513.56 568.35,513.73 568.52,513.88 568.68,514.02 568.84,514.15 569.00,514.28 569.17,514.39 569.33,514.50 569.49,514.59 569.66,514.68 569.82,514.77 569.98,514.84 570.15,514.91 570.31,514.98 570.47,515.04 570.64,515.09 570.80,515.14 570.96,515.19 571.13,515.23 571.29,515.27 571.45,515.30 571.61,515.33 571.78,515.36 571.94,515.39 572.10,515.41 572.27,515.43 572.43,515.45 572.59,515.47 572.76,515.48 572.92,515.49 573.08,515.51 573.25,515.52 573.41,515.53 573.57,515.54 573.74,515.54 573.90,515.55 574.06,515.56 574.22,515.56 574.39,515.57 574.55,515.57 574.71,515.57 574.88,515.58 575.04,515.58 575.20,515.58 575.37,515.59 575.53,515.59 575.69,515.59 575.86,515.59 576.02,515.59 576.18,515.59 576.34,515.59 576.51,515.59 576.67,515.60 576.83,515.60 577.00,515.60 577.16,515.60 577.32,515.60 577.49,515.60 577.65,515.60 577.81,515.60 577.98,515.60 578.14,515.60 578.30,515.60 578.47,515.60 578.63,515.60 578.79,515.60 578.95,515.60 579.12,515.60 579.28,515.60 579.44,515.60 579.61,515.60 579.77,515.60 579.93,515.60 580.10,515.60 580.26,515.60 580.42,515.60 580.59,515.60 580.75,515.60 580.91,515.60 581.08,515.60 581.24,515.60 581.40,515.60 581.56,515.60 581.73,515.60 581.89,515.60 582.05,515.60 582.22,515.60 582.38,515.60 582.54,515.60 582.71,515.60 582.87,515.60 583.03,515.60 583.20,515.60 583.36,515.60 583.52,515.60 583.68,515.60 583.85,515.60 584.01,515.60 584.17,515.60 584.34,515.60 584.50,515.60 584.66,515.60 584.83,515.60 584.99,515.60 585.15,515.60 585.32,515.60 585.48,515.60 585.64,515.60 585.81,515.60 585.97,515.60 586.13,515.60 586.29,515.60 586.46,515.60 586.62,515.60 586.78,515.60 586.95,515.60 587.11,515.60 587.27,515.60 587.44,515.60 587.60,515.60 587.76,515.60 587.93,515.60 588.09,515.60 588.25,515.60 588.41,515.60 588.58,515.60 588.74,515.60 588.90,515.60 589.07,515.60 589.23,515.60 589.39,515.60 589.56,515.60 589.72,515.60 589.88,515.60 590.05,515.60 590.21,515.60 590.37,515.59 590.54,515.59 590.70,515.59 590.86,515.59 591.02,515.59 591.19,515.59 591.35,515.59 591.51,515.59 591.68,515.58 591.84,515.58 592.00,515.58 592.17,515.58 592.33,515.58 592.49,515.57 592.66,515.57 592.82,515.57 592.98,515.56 593.15,515.56 593.31,515.55 593.47,515.55 593.63,515.54 593.80,515.53 593.96,515.53 594.12,515.52 594.29,515.51 594.45,515.50 594.61,515.49 594.78,515.48 594.94,515.46 595.10,515.45 595.27,515.43 595.43,515.42 595.59,515.40 595.75,515.38 595.92,515.36 596.08,515.34 596.24,515.31 596.41,515.29 596.57,515.26 596.73,515.23 596.90,515.20 597.06,515.17 597.22,515.13 597.39,515.09 597.55,515.05 597.71,515.01 597.88,514.96 598.04,514.91 598.20,514.86 598.36,514.80 598.53,514.73 598.69,514.67 598.85,514.59 599.02,514.51 599.18,514.42 599.34,514.31 599.51,514.20 599.67,514.07 599.83,513.92 600.00,513.74 600.16,513.54 600.32,513.30 600.48,513.02 600.65,512.69 600.81,512.30 600.97,511.84 601.14,511.29 601.30,510.63 601.46,509.86 601.63,508.96 601.79,507.90 601.95,506.66 602.12,505.22 602.28,503.57 602.44,501.66 602.61,499.50 602.77,497.04 602.93,494.28 603.09,491.19 603.26,487.78 603.42,484.02 603.58,479.93 603.75,475.50 603.91,470.75 604.07,465.70 604.24,460.38 604.40,454.84 604.56,449.12 604.73,443.28 604.89,437.39 605.05,431.51 605.22,425.74 605.38,420.14 605.54,414.81 605.70,409.83 605.87,405.28 606.03,401.24 606.19,397.78 606.36,394.96 606.52,392.84 606.68,391.46 606.85,390.84 607.01,390.99 607.17,391.91 607.34,393.58 607.50,395.98 607.66,399.05 607.82,402.75 607.99,406.99 608.15,411.72 608.31,416.85 608.48,422.29 608.64,427.97 608.80,433.79 608.97,439.68 609.13,445.57 609.29,451.37 609.46,457.02 609.62,462.48 609.78,467.70 609.95,472.63 610.11,477.26 610.27,481.56 610.43,485.53 610.60,489.15 610.76,492.43 610.92,495.39 611.09,498.03 611.25,500.37 611.41,502.43 611.58,504.24 611.74,505.81 611.90,507.17 612.07,508.33 612.23,509.33 612.39,510.18 612.56,510.90 612.72,511.51 612.88,512.03 613.04,512.46 613.21,512.83 613.37,513.14 613.53,513.40 613.70,513.62 613.86,513.82 614.02,513.98 614.19,514.12 614.35,514.25 614.51,514.36 614.68,514.45 614.84,514.54 615.00,514.62 615.16,514.69 615.33,514.76 615.49,514.82 615.65,514.88 615.82,514.93 615.98,514.98 616.14,515.02 616.31,515.07 616.47,515.11 616.63,515.15 616.80,515.18 616.96,515.21 617.12,515.24 617.29,515.27 617.45,515.30 617.61,515.32 617.77,515.35 617.94,515.37 618.10,515.39 618.26,515.41 618.43,515.42 618.59,515.44 618.75,515.45 618.92,515.47 619.08,515.48 619.24,515.49 619.41,515.50 619.57,515.51 619.73,515.52 619.89,515.53 620.06,515.54 620.22,515.54 620.38,515.55 620.55,515.55 620.71,515.56 620.87,515.56 621.04,515.57 621.20,515.57 621.36,515.57 621.53,515.58 621.69,515.58 621.85,515.58 622.02,515.58 622.18,515.59 622.34,515.59 622.50,515.59 622.67,515.59 622.83,515.59 622.99,515.59 623.16,515.59 623.32,515.59 623.48,515.59 623.65,515.60 623.81,515.60 623.97,515.60 624.14,515.60 624.30,515.60 624.46,515.60 624.63,515.60 624.79,515.60 624.95,515.60 625.11,515.60 625.28,515.60 625.44,515.60 625.60,515.60 625.77,515.60 625.93,515.60 626.09,515.60 626.26,515.60 626.42,515.60 626.58,515.60 626.75,515.60 626.91,515.60 627.07,515.60 627.23,515.60 627.40,515.60 627.56,515.60 627.72,515.60 627.89,515.60 628.05,515.60 628.21,515.60 628.38,515.60 628.54,515.60 628.70,515.60 628.87,515.60 629.03,515.60 629.19,515.60 629.36,515.60 629.52,515.60 629.68,515.60 629.84,515.60 630.01,515.60 630.17,515.60 630.33,515.60 630.50,515.60 630.66,515.60 630.82,515.60 630.99,515.60 631.15,515.60 631.31,515.60 631.48,515.60 631.64,515.60 631.80,515.60 631.96,515.60 632.13,515.60 632.29,515.60 632.45,515.60 632.62,515.60 632.78,515.60 632.94,515.60 633.11,515.60 633.27,515.60 633.43,515.60 633.60,515.60 633.76,515.60 633.92,515.60 634.09,515.60 634.25,515.60 634.41,515.60 634.57,515.60 634.74,515.60 634.90,515.60 635.06,515.60 635.23,515.60 635.39,515.60 635.55,515.60 635.72,515.60 635.88,515.60 636.04,515.60 636.21,515.60 636.37,515.60 636.53,515.60 636.70,515.60 636.86,515.60 637.02,515.60 637.18,515.60 637.35,515.60 637.51,515.60 637.67,515.60 637.84,515.60 638.00,515.60 638.16,515.60 638.33,515.60 638.49,515.60 638.65,515.60 638.82,515.60 638.98,515.60 639.14,515.60 639.30,515.60 639.47,515.60 639.63,515.60 639.79,515.60 639.96,515.60 640.12,515.60 640.28,515.60 640.45,515.60 640.61,515.60 640.77,515.60 640.94,515.60 641.10,515.60 641.26,515.60 641.43,515.60 641.59,515.60 641.75,515.60 641.91,515.60 642.08,515.60 642.24,515.60 642.40,515.59 642.57,515.59 642.73,515.59 642.89,515.59 643.06,515.59 643.22,515.59 643.38,515.59 643.55,515.59 643.71,515.59 643.87,515.59 644.03,515.58 644.20,515.58 644.36,515.58 644.52,515.58 644.69,515.58 644.85,515.57 645.01,515.57 645.18,515.57 645.34,515.57 645.50,515.56 645.67,515.56 645.83,515.56 645.99,515.55 646.16,515.55 646.32,515.54 646.48,515.54 646.64,515.53 646.81,515.53 646.97,515.52 647.13,515.51 647.30,515.50 647.46,515.50 647.62,515.49 647.79,515.48 647.95,515.47 648.11,515.46 648.28,515.45 648.44,515.44 648.60,515.42 648.77,515.41 648.93,515.40 649.09,515.38 649.25,515.36 649.42,515.34 649.58,515.31 649.74,515.28 649.91,515.25 650.07,515.21 650.23,515.17 650.40,515.11 650.56,515.05 650.72,514.98 650.89,514.89 651.05,514.78 651.21,514.66 651.37,514.51 651.54,514.34 651.70,514.14 651.86,513.90 652.03,513.63 652.19,513.31 652.35,512.95 652.52,512.54 652.68,512.08 652.84,511.56 653.01,510.98 653.17,510.33 653.33,509.63 653.50,508.86 653.66,508.03 653.82,507.14 653.98,506.20 654.15,505.21 654.31,504.18 654.47,503.12 654.64,502.05 654.80,500.96 654.96,499.88 655.13,498.82 655.29,497.79 655.45,496.82 655.62,495.92 655.78,495.10 655.94,494.38 656.11,493.76 656.27,493.27 656.43,492.90 656.59,492.68 656.76,492.59 656.92,492.65 657.08,492.85 657.25,493.18 657.41,493.65 657.57,494.24 657.74,494.94 657.90,495.75 658.06,496.63 658.23,497.59 658.39,498.61 658.55,499.66 658.71,500.74 658.88,501.82 659.04,502.91 659.20,503.97 659.37,505.01 659.53,506.01 659.69,506.96 659.86,507.86 660.02,508.70 660.18,509.48 660.35,510.20 660.51,510.85 660.67,511.44 660.84,511.98 661.00,512.45 661.16,512.87 661.32,513.24 661.49,513.57 661.65,513.85 661.81,514.09 661.98,514.30 662.14,514.48 662.30,514.63 662.47,514.76 662.63,514.87 662.79,514.96 662.96,515.04 663.12,515.10 663.28,515.16 663.44,515.20 663.61,515.24 663.77,515.28 663.93,515.31 664.10,515.33 664.26,515.35 664.42,515.37 664.59,515.39 664.75,515.41 664.91,515.42 665.08,515.44 665.24,515.45 665.40,515.46 665.57,515.47 665.73,515.48 665.89,515.49 666.05,515.50 666.22,515.50 666.38,515.51 666.54,515.52 666.71,515.52 666.87,515.53 667.03,515.54 667.20,515.54 667.36,515.55 667.52,515.55 667.69,515.55 667.85,515.56 668.01,515.56 668.18,515.57 668.34,515.57 668.50,515.57 668.66,515.57 668.83,515.58 668.99,515.58 669.15,515.58 669.32,515.58 669.48,515.58 669.64,515.59 669.81,515.59 669.97,515.59 670.13,515.59 670.30,515.59 670.46,515.59 670.62,515.59 670.78,515.59 670.95,515.59 671.11,515.59 671.27,515.60 671.44,515.60 671.60,515.60 671.76,515.60 671.93,515.60 672.09,515.60 672.25,515.60 672.42,515.60 672.58,515.60 672.74,515.60 672.91,515.60 673.07,515.60 673.23,515.60 673.39,515.60 673.56,515.60 673.72,515.60 673.88,515.60 674.05,515.60 674.21,515.60 674.37,515.60 674.54,515.60 674.70,515.60 674.86,515.60 675.03,515.60 675.19,515.60 675.35,515.60 675.51,515.60 675.68,515.60 675.84,515.60 676.00,515.60 676.17,515.60 676.33,515.60 676.49,515.60 676.66,515.60 676.82,515.60 676.98,515.60 677.15,515.60 677.31,515.60 677.47,515.60 677.64,515.60 677.80,515.60 677.96,515.60 678.12,515.60 678.29,515.60 678.45,515.60 678.61,515.60 678.78,515.60 678.94,515.60 679.10,515.60 679.27,515.60 679.43,515.60 679.59,515.60 679.76,515.60 679.92,515.60 680.08,515.60 680.25,515.60 680.41,515.60 680.57,515.60 680.73,515.60 680.90,515.60 681.06,515.60 681.22,515.60 681.39,515.60 681.55,515.60 681.5,515.5" fill="#d8d8d8" stroke="#c4c4c4" stroke-width="0.6"/>
<line x1="437.00" y1="509.60" x2="682.00" y2="509.60" stroke="#8a0000" stroke-width="2.2"/>
<polyline points="545.20,510.72 545.27,510.72 545.33,510.72 545.40,510.72 545.46,510.72 545.53,510.72 545.60,510.72 545.66,510.72 545.73,510.72 545.79,510.72 545.86,510.72 545.93,510.72 545.99,510.72 546.06,510.72 546.12,510.72 546.19,510.72 546.26,510.72 546.32,510.72 546.39,510.72 546.45,510.72 546.52,510.72 546.59,510.72 546.65,510.72 546.72,510.72 546.78,510.72 546.85,510.72 546.92,510.72 546.98,510.72 547.05,510.72 547.11,510.72 547.18,510.72 547.25,510.72 547.31,510.72 547.38,510.72 547.44,510.72 547.51,510.72 547.58,510.72 547.64,510.72 547.71,510.72 547.77,510.72 547.84,510.72 547.91,510.72 547.97,510.72 548.04,510.72 548.10,510.72 548.17,510.72 548.24,510.72 548.30,510.72 548.37,510.72 548.43,510.72 548.50,510.72 548.57,510.72 548.63,510.72 548.70,510.72 548.76,510.72 548.83,510.72 548.90,510.72 548.96,510.72 549.03,510.72 549.09,510.72 549.16,510.72 549.23,510.72 549.29,510.72 549.36,510.71 549.42,510.71 549.49,510.71 549.55,510.71 549.62,510.70 549.69,510.70 549.75,510.69 549.82,510.69 549.88,510.68 549.95,510.68 550.02,510.67 550.08,510.66 550.15,510.65 550.21,510.64 550.28,510.62 550.35,510.60 550.41,510.59 550.48,510.56 550.54,510.54 550.61,510.51 550.68,510.48 550.74,510.44 550.81,510.39 550.87,510.34 550.94,510.29 551.01,510.22 551.07,510.15 551.14,510.07 551.20,509.98 551.27,509.87 551.34,509.75 551.40,509.62 551.47,509.47 551.53,509.30 551.60,509.11 551.67,508.90 551.73,508.66 551.80,508.39 551.86,508.09 551.93,507.76 552.00,507.39 552.06,506.98 552.13,506.53 552.19,506.02 552.26,505.47 552.33,504.85 552.39,504.17 552.46,503.42 552.52,502.59 552.59,501.68 552.66,500.69 552.72,499.60 552.79,498.40 552.85,497.10 552.92,495.68 552.99,494.12 553.05,492.44 553.12,490.60 553.18,488.62 553.25,486.46 553.32,484.13 553.38,481.62 553.45,478.91 553.51,475.99 553.58,472.85 553.65,469.48 553.71,465.86 553.78,462.00 553.84,457.86 553.91,453.45 553.98,448.76 554.04,443.76 554.11,438.45 554.17,432.82 554.24,426.87 554.31,420.57 554.37,413.92 554.44,406.92 554.50,399.55 554.57,391.81 554.64,383.70 554.70,375.21 554.77,366.33 554.83,357.07 554.90,347.43 554.96,337.40 555.03,327.00 555.10,316.22 555.16,305.07 555.23,300.00 555.29,300.00 555.36,300.00 555.43,300.00 555.49,300.00 555.56,300.00 555.62,300.00 555.69,300.00 555.76,300.00 555.82,300.00 555.89,300.00 555.95,300.00 556.02,300.00 556.09,300.00 556.15,300.00 556.22,300.00 556.28,300.00 556.35,300.00 556.42,300.00 556.48,300.00 556.55,300.00 556.61,300.00 556.68,300.00 556.75,300.00 556.81,300.00 556.88,300.00 556.94,300.00 557.01,300.00 557.08,300.00 557.14,300.00 557.21,300.00 557.27,300.00 557.34,300.00 557.41,300.00 557.47,300.00 557.54,300.00 557.60,300.00 557.67,300.00 557.74,300.00 557.80,300.00 557.87,300.00 557.93,300.00 558.00,300.00 558.07,300.00 558.13,300.00 558.20,300.00 558.26,300.00 558.33,300.00 558.40,300.00 558.46,300.00 558.53,300.00 558.59,300.00 558.66,300.00 558.73,300.00 558.79,300.00 558.86,300.00 558.92,300.00 558.99,300.00 559.06,300.00 559.12,300.00 559.19,300.00 559.25,300.00 559.32,300.00 559.39,300.00 559.45,300.00 559.52,300.00 559.58,300.00 559.65,300.00 559.72,300.00 559.78,300.00 559.85,300.00 559.91,300.00 559.98,300.00 560.05,300.00 560.11,300.00 560.18,300.00 560.24,300.00 560.31,300.00 560.38,300.00 560.44,300.00 560.51,300.00 560.57,300.00 560.64,300.00 560.70,300.00 560.77,300.00 560.84,306.40 560.90,317.50 560.97,328.24 561.03,338.60 561.10,348.58 561.17,358.18 561.23,367.40 561.30,376.23 561.36,384.67 561.43,392.74 561.50,400.44 561.56,407.76 561.63,414.72 561.69,421.33 561.76,427.58 561.83,433.50 561.89,439.09 561.96,444.36 562.02,449.32 562.09,453.99 562.16,458.36 562.22,462.46 562.29,466.30 562.35,469.88 562.42,473.23 562.49,476.34 562.55,479.24 562.62,481.92 562.68,484.42 562.75,486.73 562.82,488.86 562.88,490.83 562.95,492.64 563.01,494.31 563.08,495.85 563.15,497.26 563.21,498.55 563.28,499.73 563.34,500.81 563.41,501.80 563.48,502.69 563.54,503.51 563.61,504.25 563.67,504.92 563.74,505.53 563.81,506.09 563.87,506.58 563.94,507.03 564.00,507.44 564.07,507.80 564.14,508.13 564.20,508.42 564.27,508.69 564.33,508.92 564.40,509.13 564.47,509.32 564.53,509.49 564.60,509.63 564.66,509.77 564.73,509.88 564.80,509.99 564.86,510.08 564.93,510.16 564.99,510.23 565.06,510.29 565.13,510.35 565.19,510.40 565.26,510.44 565.32,510.48 565.39,510.51 565.46,510.54 565.52,510.57 565.59,510.59 565.65,510.61 565.72,510.62 565.79,510.64 565.85,510.65 565.92,510.66 565.98,510.67 566.05,510.68 566.11,510.68 566.18,510.69 566.25,510.70 566.31,510.70 566.38,510.70 566.44,510.71 566.51,510.71 566.58,510.71 566.64,510.71 566.71,510.72 566.77,510.72 566.84,510.72 566.91,510.72 566.97,510.72 567.04,510.72 567.10,510.72 567.17,510.72 567.24,510.72 567.30,510.72 567.37,510.72 567.43,510.72 567.50,510.72 567.57,510.72 567.63,510.72 567.70,510.72 567.76,510.72 567.83,510.72 567.90,510.72 567.96,510.72 568.03,510.72 568.09,510.72 568.16,510.72 568.23,510.72 568.29,510.72 568.36,510.72 568.42,510.72 568.49,510.72 568.56,510.72 568.62,510.72 568.69,510.72 568.75,510.72 568.82,510.72 568.89,510.72 568.95,510.72 569.02,510.72 569.08,510.72 569.15,510.72 569.22,510.72 569.28,510.72 569.35,510.72 569.41,510.72 569.48,510.72 569.55,510.72 569.61,510.72 569.68,510.72 569.74,510.72 569.81,510.72 569.88,510.72 569.94,510.72 570.01,510.72 570.07,510.72 570.14,510.72 570.21,510.72 570.27,510.72 570.34,510.72 570.40,510.72 570.47,510.72 570.54,510.72 570.60,510.72 570.67,510.72 570.73,510.72 570.80,510.72 570.87,510.72 570.93,510.72 571.00,510.72 571.06,510.72 571.13,510.72 571.20,510.72 571.26,510.72 571.33,510.72 571.39,510.72 571.46,510.72 571.52,510.72" fill="none" stroke="#000" stroke-width="1.3"/>
<polyline points="538.60,494.63 538.83,493.79 539.06,492.92 539.29,492.02 539.52,491.08 539.75,490.12 539.98,489.12 540.22,488.09 540.45,487.02 540.68,485.93 540.91,484.79 541.14,483.63 541.37,482.43 541.60,481.19 541.83,479.92 542.06,478.62 542.29,477.28 542.53,475.91 542.76,474.50 542.99,473.06 543.22,471.59 543.45,470.09 543.68,468.55 543.91,466.98 544.14,465.38 544.37,463.76 544.60,462.10 544.84,460.41 545.07,458.70 545.30,456.96 545.53,455.20 545.76,453.41 545.99,451.60 546.22,449.77 546.45,447.93 546.68,446.06 546.91,444.18 547.15,442.28 547.38,440.37 547.61,438.45 547.84,436.52 548.07,434.59 548.30,432.65 548.53,430.71 548.76,428.76 548.99,426.83 549.22,424.89 549.46,422.96 549.69,421.04 549.92,419.14 550.15,417.24 550.38,415.37 550.61,413.51 550.84,411.67 551.07,409.86 551.30,408.08 551.53,406.32 551.77,404.60 552.00,402.91 552.23,401.26 552.46,399.64 552.69,398.07 552.92,396.55 553.15,395.07 553.38,393.63 553.61,392.25 553.84,390.93 554.07,389.66 554.31,388.44 554.54,387.29 554.77,386.20 555.00,385.17 555.23,384.20 555.46,383.31 555.69,382.48 555.92,381.72 556.15,381.03 556.38,380.41 556.62,379.87 556.85,379.40 557.08,379.00 557.31,378.68 557.54,378.44 557.77,378.27 558.00,378.18 558.23,378.17 558.46,378.23 558.69,378.37 558.93,378.59 559.16,378.88 559.39,379.25 559.62,379.69 559.85,380.21 560.08,380.80 560.31,381.46 560.54,382.19 560.77,383.00 561.00,383.87 561.24,384.81 561.47,385.82 561.70,386.89 561.93,388.02 562.16,389.21 562.39,390.46 562.62,391.77 562.85,393.13 563.08,394.54 563.31,396.01 563.55,397.52 563.78,399.07 564.01,400.67 564.24,402.31 564.47,403.98 564.70,405.69 564.93,407.44 565.16,409.21 565.39,411.01 565.62,412.84 565.86,414.69 566.09,416.56 566.32,418.45 566.55,420.35 566.78,422.27 567.01,424.19 567.24,426.12 567.47,428.06 567.70,430.00 567.93,431.95 568.17,433.89 568.40,435.82 568.63,437.75 568.86,439.68 569.09,441.59 569.32,443.49 569.55,445.38 569.78,447.25 570.01,449.11 570.24,450.94 570.47,452.76 570.71,454.56 570.94,456.33 571.17,458.08 571.40,459.80 571.63,461.49 571.86,463.16 572.09,464.80 572.32,466.41 572.55,467.99 572.78,469.53 573.02,471.05 573.25,472.53 573.48,473.99 573.71,475.40 573.94,476.79 574.17,478.14 574.40,479.45 574.63,480.74 574.86,481.98 575.09,483.20 575.33,484.37 575.56,485.52 575.79,486.63 576.02,487.71 576.25,488.75 576.48,489.76 576.71,490.74 576.94,491.68 577.17,492.60 577.40,493.48 577.64,494.33 577.87,495.14 578.10,495.93 578.33,496.69 578.56,497.42 578.79,498.12 579.02,498.80 579.25,499.45 579.48,500.07 579.71,500.66 579.95,501.23 580.18,501.78 580.41,502.30 580.64,502.80 580.87,503.27 581.10,503.73 581.33,504.16 581.56,504.57 581.79,504.97 582.02,505.34 582.26,505.70 582.49,506.04 582.72,506.36 582.95,506.67 583.18,506.96 583.41,507.23 583.64,507.49 583.87,507.74 584.10,507.97 584.33,508.19 584.56,508.40" fill="none" stroke="#00e8f0" stroke-width="2" stroke-dasharray="8,5"/>
<polyline points="437.4,495.5 439.3,496.9 441.1,490.5 443.0,481.4 444.9,471.2 446.7,461.9 448.6,452.9 450.5,445.6 452.4,436.3 454.2,429.6 456.1,427.7 458.0,426.2 459.9,432.6 461.7,436.5 463.6,440.6 465.5,448.3 467.4,451.8 469.2,459.1 471.1,466.8 473.0,474.1 474.9,480.9 476.7,489.2 478.6,496.1 480.5,503.1 482.4,505.0 484.2,506.0 486.1,501.8 488.0,500.2 489.9,496.7 491.7,488.8 493.6,476.5 495.5,469.6 497.4,455.9 499.2,442.7 501.1,427.1 503.0,414.3 504.9,408.1 506.7,402.2 508.6,396.2 510.5,393.7 512.4,394.8 514.2,401.8 516.1,406.4 518.0,416.3 519.9,429.5 521.7,442.8 523.6,456.1 525.5,463.7 527.4,477.9 529.2,493.1 531.1,497.1 533.0,504.1 534.9,503.4 536.7,498.4 538.6,491.2 540.5,489.9 542.3,482.0 544.2,465.5 546.1,445.3 548.0,425.7 549.8,405.7 551.7,391.1 553.6,381.0 555.5,378.6 557.3,384.9 559.2,393.9 561.1,399.3 563.0,406.6 564.8,409.7 566.7,413.0 568.6,420.9 570.5,435.6 572.3,458.0 574.2,477.2 576.1,485.5 578.0,491.4 579.8,496.0 581.7,497.1 583.6,500.7 585.5,498.8 587.3,495.0 589.2,479.5 591.1,462.1 593.0,447.9 594.8,441.6 596.7,429.2 598.6,409.8 600.5,392.9 602.3,389.0 604.2,393.7 606.1,396.5 608.0,397.8 609.8,388.5 611.7,389.7 613.6,400.5 615.5,412.8 617.3,424.8 619.2,436.2 621.1,450.6 623.0,467.3 624.8,483.0 626.7,490.1 628.6,494.7 630.4,498.5 632.3,503.9 634.2,501.8 636.1,497.9 637.9,492.1 639.8,488.0 641.7,476.2 643.6,468.8 645.4,457.8 647.3,449.3 649.2,439.1 651.1,430.9 652.9,429.9 654.8,426.7 656.7,422.7 658.6,422.8 660.4,426.0 662.3,427.9 664.2,435.1 666.1,441.2 667.9,451.5 669.8,461.6 671.7,474.8 673.6,480.7 675.4,490.8 677.3,498.1 679.2,500.4 681.1,498.0" fill="none" stroke="#2a2aff" stroke-width="1"/>
<circle cx="437.4" cy="495.5" r="2.45" fill="url(#gblue)"/>
<circle cx="439.3" cy="496.9" r="2.45" fill="url(#gblue)"/>
<circle cx="441.1" cy="490.5" r="2.45" fill="url(#gblue)"/>
<circle cx="443.0" cy="481.4" r="2.45" fill="url(#gblue)"/>
<circle cx="444.9" cy="471.2" r="2.45" fill="url(#gblue)"/>
<circle cx="446.7" cy="461.9" r="2.45" fill="url(#gblue)"/>
<circle cx="448.6" cy="452.9" r="2.45" fill="url(#gblue)"/>
<circle cx="450.5" cy="445.6" r="2.45" fill="url(#gblue)"/>
<circle cx="452.4" cy="436.3" r="2.45" fill="url(#gblue)"/>
<circle cx="454.2" cy="429.6" r="2.45" fill="url(#gblue)"/>
<circle cx="456.1" cy="427.7" r="2.45" fill="url(#gblue)"/>
<circle cx="458.0" cy="426.2" r="2.45" fill="url(#gblue)"/>
<circle cx="459.9" cy="432.6" r="2.45" fill="url(#gblue)"/>
<circle cx="461.7" cy="436.5" r="2.45" fill="url(#gblue)"/>
<circle cx="463.6" cy="440.6" r="2.45" fill="url(#gblue)"/>
<circle cx="465.5" cy="448.3" r="2.45" fill="url(#gblue)"/>
<circle cx="467.4" cy="451.8" r="2.45" fill="url(#gblue)"/>
<circle cx="469.2" cy="459.1" r="2.45" fill="url(#gblue)"/>
<circle cx="471.1" cy="466.8" r="2.45" fill="url(#gblue)"/>
<circle cx="473.0" cy="474.1" r="2.45" fill="url(#gblue)"/>
<circle cx="474.9" cy="480.9" r="2.45" fill="url(#gblue)"/>
<circle cx="476.7" cy="489.2" r="2.45" fill="url(#gblue)"/>
<circle cx="478.6" cy="496.1" r="2.45" fill="url(#gblue)"/>
<circle cx="480.5" cy="503.1" r="2.45" fill="url(#gblue)"/>
<circle cx="482.4" cy="505.0" r="2.45" fill="url(#gblue)"/>
<circle cx="484.2" cy="506.0" r="2.45" fill="url(#gblue)"/>
<circle cx="486.1" cy="501.8" r="2.45" fill="url(#gblue)"/>
<circle cx="488.0" cy="500.2" r="2.45" fill="url(#gblue)"/>
<circle cx="489.9" cy="496.7" r="2.45" fill="url(#gblue)"/>
<circle cx="491.7" cy="488.8" r="2.45" fill="url(#gblue)"/>
<circle cx="493.6" cy="476.5" r="2.45" fill="url(#gblue)"/>
<circle cx="495.5" cy="469.6" r="2.45" fill="url(#gblue)"/>
<circle cx="497.4" cy="455.9" r="2.45" fill="url(#gblue)"/>
<circle cx="499.2" cy="442.7" r="2.45" fill="url(#gblue)"/>
<circle cx="501.1" cy="427.1" r="2.45" fill="url(#gblue)"/>
<circle cx="503.0" cy="414.3" r="2.45" fill="url(#gblue)"/>
<circle cx="504.9" cy="408.1" r="2.45" fill="url(#gblue)"/>
<circle cx="506.7" cy="402.2" r="2.45" fill="url(#gblue)"/>
<circle cx="508.6" cy="396.2" r="2.45" fill="url(#gblue)"/>
<circle cx="510.5" cy="393.7" r="2.45" fill="url(#gblue)"/>
<circle cx="512.4" cy="394.8" r="2.45" fill="url(#gblue)"/>
<circle cx="514.2" cy="401.8" r="2.45" fill="url(#gblue)"/>
<circle cx="516.1" cy="406.4" r="2.45" fill="url(#gblue)"/>
<circle cx="518.0" cy="416.3" r="2.45" fill="url(#gblue)"/>
<circle cx="519.9" cy="429.5" r="2.45" fill="url(#gblue)"/>
<circle cx="521.7" cy="442.8" r="2.45" fill="url(#gblue)"/>
<circle cx="523.6" cy="456.1" r="2.45" fill="url(#gblue)"/>
<circle cx="525.5" cy="463.7" r="2.45" fill="url(#gblue)"/>
<circle cx="527.4" cy="477.9" r="2.45" fill="url(#gblue)"/>
<circle cx="529.2" cy="493.1" r="2.45" fill="url(#gblue)"/>
<circle cx="531.1" cy="497.1" r="2.45" fill="url(#gblue)"/>
<circle cx="533.0" cy="504.1" r="2.45" fill="url(#gblue)"/>
<circle cx="534.9" cy="503.4" r="2.45" fill="url(#gblue)"/>
<circle cx="536.7" cy="498.4" r="2.45" fill="url(#gblue)"/>
<circle cx="538.6" cy="491.2" r="2.45" fill="url(#gblue)"/>
<circle cx="540.5" cy="489.9" r="2.45" fill="url(#gblue)"/>
<circle cx="542.3" cy="482.0" r="2.45" fill="url(#gblue)"/>
<circle cx="544.2" cy="465.5" r="2.45" fill="url(#gblue)"/>
<circle cx="546.1" cy="445.3" r="2.45" fill="url(#gblue)"/>
<circle cx="548.0" cy="425.7" r="2.45" fill="url(#gblue)"/>
<circle cx="549.8" cy="405.7" r="2.45" fill="url(#gblue)"/>
<circle cx="551.7" cy="391.1" r="2.45" fill="url(#gblue)"/>
<circle cx="553.6" cy="381.0" r="2.45" fill="url(#gblue)"/>
<circle cx="555.5" cy="378.6" r="2.45" fill="url(#gblue)"/>
<circle cx="557.3" cy="384.9" r="2.45" fill="url(#gblue)"/>
<circle cx="559.2" cy="393.9" r="2.45" fill="url(#gblue)"/>
<circle cx="561.1" cy="399.3" r="2.45" fill="url(#gblue)"/>
<circle cx="563.0" cy="406.6" r="2.45" fill="url(#gblue)"/>
<circle cx="564.8" cy="409.7" r="2.45" fill="url(#gblue)"/>
<circle cx="566.7" cy="413.0" r="2.45" fill="url(#gblue)"/>
<circle cx="568.6" cy="420.9" r="2.45" fill="url(#gblue)"/>
<circle cx="570.5" cy="435.6" r="2.45" fill="url(#gblue)"/>
<circle cx="572.3" cy="458.0" r="2.45" fill="url(#gblue)"/>
<circle cx="574.2" cy="477.2" r="2.45" fill="url(#gblue)"/>
<circle cx="576.1" cy="485.5" r="2.45" fill="url(#gblue)"/>
<circle cx="578.0" cy="491.4" r="2.45" fill="url(#gblue)"/>
<circle cx="579.8" cy="496.0" r="2.45" fill="url(#gblue)"/>
<circle cx="581.7" cy="497.1" r="2.45" fill="url(#gblue)"/>
<circle cx="583.6" cy="500.7" r="2.45" fill="url(#gblue)"/>
<circle cx="585.5" cy="498.8" r="2.45" fill="url(#gblue)"/>
<circle cx="587.3" cy="495.0" r="2.45" fill="url(#gblue)"/>
<circle cx="589.2" cy="479.5" r="2.45" fill="url(#gblue)"/>
<circle cx="591.1" cy="462.1" r="2.45" fill="url(#gblue)"/>
<circle cx="593.0" cy="447.9" r="2.45" fill="url(#gblue)"/>
<circle cx="594.8" cy="441.6" r="2.45" fill="url(#gblue)"/>
<circle cx="596.7" cy="429.2" r="2.45" fill="url(#gblue)"/>
<circle cx="598.6" cy="409.8" r="2.45" fill="url(#gblue)"/>
<circle cx="600.5" cy="392.9" r="2.45" fill="url(#gblue)"/>
<circle cx="602.3" cy="389.0" r="2.45" fill="url(#gblue)"/>
<circle cx="604.2" cy="393.7" r="2.45" fill="url(#gblue)"/>
<circle cx="606.1" cy="396.5" r="2.45" fill="url(#gblue)"/>
<circle cx="608.0" cy="397.8" r="2.45" fill="url(#gblue)"/>
<circle cx="609.8" cy="388.5" r="2.45" fill="url(#gblue)"/>
<circle cx="611.7" cy="389.7" r="2.45" fill="url(#gblue)"/>
<circle cx="613.6" cy="400.5" r="2.45" fill="url(#gblue)"/>
<circle cx="615.5" cy="412.8" r="2.45" fill="url(#gblue)"/>
<circle cx="617.3" cy="424.8" r="2.45" fill="url(#gblue)"/>
<circle cx="619.2" cy="436.2" r="2.45" fill="url(#gblue)"/>
<circle cx="621.1" cy="450.6" r="2.45" fill="url(#gblue)"/>
<circle cx="623.0" cy="467.3" r="2.45" fill="url(#gblue)"/>
<circle cx="624.8" cy="483.0" r="2.45" fill="url(#gblue)"/>
<circle cx="626.7" cy="490.1" r="2.45" fill="url(#gblue)"/>
<circle cx="628.6" cy="494.7" r="2.45" fill="url(#gblue)"/>
<circle cx="630.4" cy="498.5" r="2.45" fill="url(#gblue)"/>
<circle cx="632.3" cy="503.9" r="2.45" fill="url(#gblue)"/>
<circle cx="634.2" cy="501.8" r="2.45" fill="url(#gblue)"/>
<circle cx="636.1" cy="497.9" r="2.45" fill="url(#gblue)"/>
<circle cx="637.9" cy="492.1" r="2.45" fill="url(#gblue)"/>
<circle cx="639.8" cy="488.0" r="2.45" fill="url(#gblue)"/>
<circle cx="641.7" cy="476.2" r="2.45" fill="url(#gblue)"/>
<circle cx="643.6" cy="468.8" r="2.45" fill="url(#gblue)"/>
<circle cx="645.4" cy="457.8" r="2.45" fill="url(#gblue)"/>
<circle cx="647.3" cy="449.3" r="2.45" fill="url(#gblue)"/>
<circle cx="649.2" cy="439.1" r="2.45" fill="url(#gblue)"/>
<circle cx="651.1" cy="430.9" r="2.45" fill="url(#gblue)"/>
<circle cx="652.9" cy="429.9" r="2.45" fill="url(#gblue)"/>
<circle cx="654.8" cy="426.7" r="2.45" fill="url(#gblue)"/>
<circle cx="656.7" cy="422.7" r="2.45" fill="url(#gblue)"/>
<circle cx="658.6" cy="422.8" r="2.45" fill="url(#gblue)"/>
<circle cx="660.4" cy="426.0" r="2.45" fill="url(#gblue)"/>
<circle cx="662.3" cy="427.9" r="2.45" fill="url(#gblue)"/>
<circle cx="664.2" cy="435.1" r="2.45" fill="url(#gblue)"/>
<circle cx="666.1" cy="441.2" r="2.45" fill="url(#gblue)"/>
<circle cx="667.9" cy="451.5" r="2.45" fill="url(#gblue)"/>
<circle cx="669.8" cy="461.6" r="2.45" fill="url(#gblue)"/>
<circle cx="671.7" cy="474.8" r="2.45" fill="url(#gblue)"/>
<circle cx="673.6" cy="480.7" r="2.45" fill="url(#gblue)"/>
<circle cx="675.4" cy="490.8" r="2.45" fill="url(#gblue)"/>
<circle cx="677.3" cy="498.1" r="2.45" fill="url(#gblue)"/>
<circle cx="679.2" cy="500.4" r="2.45" fill="url(#gblue)"/>
<circle cx="681.1" cy="498.0" r="2.45" fill="url(#gblue)"/>
</g>
<rect x="62.1" y="309.2" width="244.10" height="206.40" fill="none" stroke="#000" stroke-width="1.5"/>
<line x1="69.90" y1="515.60" x2="69.90" y2="512.20" stroke="#000" stroke-width="1.35"/>
<line x1="69.90" y1="309.20" x2="69.90" y2="312.60" stroke="#000" stroke-width="1.35"/>
<line x1="86.20" y1="515.60" x2="86.20" y2="509.40" stroke="#000" stroke-width="1.35"/>
<line x1="86.20" y1="309.20" x2="86.20" y2="315.40" stroke="#000" stroke-width="1.35"/>
<line x1="102.50" y1="515.60" x2="102.50" y2="512.20" stroke="#000" stroke-width="1.35"/>
<line x1="102.50" y1="309.20" x2="102.50" y2="312.60" stroke="#000" stroke-width="1.35"/>
<line x1="118.80" y1="515.60" x2="118.80" y2="512.20" stroke="#000" stroke-width="1.35"/>
<line x1="118.80" y1="309.20" x2="118.80" y2="312.60" stroke="#000" stroke-width="1.35"/>
<line x1="135.10" y1="515.60" x2="135.10" y2="509.40" stroke="#000" stroke-width="1.35"/>
<line x1="135.10" y1="309.20" x2="135.10" y2="315.40" stroke="#000" stroke-width="1.35"/>
<line x1="151.40" y1="515.60" x2="151.40" y2="512.20" stroke="#000" stroke-width="1.35"/>
<line x1="151.40" y1="309.20" x2="151.40" y2="312.60" stroke="#000" stroke-width="1.35"/>
<line x1="167.70" y1="515.60" x2="167.70" y2="512.20" stroke="#000" stroke-width="1.35"/>
<line x1="167.70" y1="309.20" x2="167.70" y2="312.60" stroke="#000" stroke-width="1.35"/>
<line x1="184.00" y1="515.60" x2="184.00" y2="509.40" stroke="#000" stroke-width="1.35"/>
<line x1="184.00" y1="309.20" x2="184.00" y2="315.40" stroke="#000" stroke-width="1.35"/>
<line x1="200.30" y1="515.60" x2="200.30" y2="512.20" stroke="#000" stroke-width="1.35"/>
<line x1="200.30" y1="309.20" x2="200.30" y2="312.60" stroke="#000" stroke-width="1.35"/>
<line x1="216.60" y1="515.60" x2="216.60" y2="512.20" stroke="#000" stroke-width="1.35"/>
<line x1="216.60" y1="309.20" x2="216.60" y2="312.60" stroke="#000" stroke-width="1.35"/>
<line x1="232.90" y1="515.60" x2="232.90" y2="509.40" stroke="#000" stroke-width="1.35"/>
<line x1="232.90" y1="309.20" x2="232.90" y2="315.40" stroke="#000" stroke-width="1.35"/>
<line x1="249.20" y1="515.60" x2="249.20" y2="512.20" stroke="#000" stroke-width="1.35"/>
<line x1="249.20" y1="309.20" x2="249.20" y2="312.60" stroke="#000" stroke-width="1.35"/>
<line x1="265.50" y1="515.60" x2="265.50" y2="512.20" stroke="#000" stroke-width="1.35"/>
<line x1="265.50" y1="309.20" x2="265.50" y2="312.60" stroke="#000" stroke-width="1.35"/>
<line x1="281.80" y1="515.60" x2="281.80" y2="509.40" stroke="#000" stroke-width="1.35"/>
<line x1="281.80" y1="309.20" x2="281.80" y2="315.40" stroke="#000" stroke-width="1.35"/>
<line x1="298.10" y1="515.60" x2="298.10" y2="512.20" stroke="#000" stroke-width="1.35"/>
<line x1="298.10" y1="309.20" x2="298.10" y2="312.60" stroke="#000" stroke-width="1.35"/>
<line x1="62.10" y1="440.60" x2="65.10" y2="440.60" stroke="#000" stroke-width="1.35"/>
<line x1="306.20" y1="440.60" x2="303.20" y2="440.60" stroke="#000" stroke-width="1.35"/>
<line x1="62.10" y1="365.60" x2="68.40" y2="365.60" stroke="#000" stroke-width="1.35"/>
<line x1="306.20" y1="365.60" x2="299.90" y2="365.60" stroke="#000" stroke-width="1.35"/>
<text x="86.10" y="536.60" font-size="18.5" text-anchor="middle" >-6</text>
<text x="135.00" y="536.60" font-size="18.5" text-anchor="middle" >-3</text>
<text x="183.90" y="536.60" font-size="18.5" text-anchor="middle" >0</text>
<text x="232.80" y="536.60" font-size="18.5" text-anchor="middle" >3</text>
<text x="281.70" y="536.60" font-size="18.5" text-anchor="middle" >6</text>
<text x="55.00" y="371.10" font-size="18.5" text-anchor="end" >800</text>
<text x="55.00" y="521.10" font-size="18.5" text-anchor="end" >0</text>
<rect x="437.1" y="308.9" width="244.80" height="206.70" fill="none" stroke="#000" stroke-width="1.5"/>
<line x1="445.20" y1="515.60" x2="445.20" y2="512.20" stroke="#000" stroke-width="1.35"/>
<line x1="445.20" y1="308.90" x2="445.20" y2="312.30" stroke="#000" stroke-width="1.35"/>
<line x1="461.50" y1="515.60" x2="461.50" y2="509.40" stroke="#000" stroke-width="1.35"/>
<line x1="461.50" y1="308.90" x2="461.50" y2="315.10" stroke="#000" stroke-width="1.35"/>
<line x1="477.80" y1="515.60" x2="477.80" y2="512.20" stroke="#000" stroke-width="1.35"/>
<line x1="477.80" y1="308.90" x2="477.80" y2="312.30" stroke="#000" stroke-width="1.35"/>
<line x1="494.10" y1="515.60" x2="494.10" y2="512.20" stroke="#000" stroke-width="1.35"/>
<line x1="494.10" y1="308.90" x2="494.10" y2="312.30" stroke="#000" stroke-width="1.35"/>
<line x1="510.40" y1="515.60" x2="510.40" y2="509.40" stroke="#000" stroke-width="1.35"/>
<line x1="510.40" y1="308.90" x2="510.40" y2="315.10" stroke="#000" stroke-width="1.35"/>
<line x1="526.70" y1="515.60" x2="526.70" y2="512.20" stroke="#000" stroke-width="1.35"/>
<line x1="526.70" y1="308.90" x2="526.70" y2="312.30" stroke="#000" stroke-width="1.35"/>
<line x1="543.00" y1="515.60" x2="543.00" y2="512.20" stroke="#000" stroke-width="1.35"/>
<line x1="543.00" y1="308.90" x2="543.00" y2="312.30" stroke="#000" stroke-width="1.35"/>
<line x1="559.30" y1="515.60" x2="559.30" y2="509.40" stroke="#000" stroke-width="1.35"/>
<line x1="559.30" y1="308.90" x2="559.30" y2="315.10" stroke="#000" stroke-width="1.35"/>
<line x1="575.60" y1="515.60" x2="575.60" y2="512.20" stroke="#000" stroke-width="1.35"/>
<line x1="575.60" y1="308.90" x2="575.60" y2="312.30" stroke="#000" stroke-width="1.35"/>
<line x1="591.90" y1="515.60" x2="591.90" y2="512.20" stroke="#000" stroke-width="1.35"/>
<line x1="591.90" y1="308.90" x2="591.90" y2="312.30" stroke="#000" stroke-width="1.35"/>
<line x1="608.20" y1="515.60" x2="608.20" y2="509.40" stroke="#000" stroke-width="1.35"/>
<line x1="608.20" y1="308.90" x2="608.20" y2="315.10" stroke="#000" stroke-width="1.35"/>
<line x1="624.50" y1="515.60" x2="624.50" y2="512.20" stroke="#000" stroke-width="1.35"/>
<line x1="624.50" y1="308.90" x2="624.50" y2="312.30" stroke="#000" stroke-width="1.35"/>
<line x1="640.80" y1="515.60" x2="640.80" y2="512.20" stroke="#000" stroke-width="1.35"/>
<line x1="640.80" y1="308.90" x2="640.80" y2="312.30" stroke="#000" stroke-width="1.35"/>
<line x1="657.10" y1="515.60" x2="657.10" y2="509.40" stroke="#000" stroke-width="1.35"/>
<line x1="657.10" y1="308.90" x2="657.10" y2="315.10" stroke="#000" stroke-width="1.35"/>
<line x1="673.40" y1="515.60" x2="673.40" y2="512.20" stroke="#000" stroke-width="1.35"/>
<line x1="673.40" y1="308.90" x2="673.40" y2="312.30" stroke="#000" stroke-width="1.35"/>
<line x1="437.10" y1="440.60" x2="440.10" y2="440.60" stroke="#000" stroke-width="1.35"/>
<line x1="681.90" y1="440.60" x2="678.90" y2="440.60" stroke="#000" stroke-width="1.35"/>
<line x1="437.10" y1="365.60" x2="443.40" y2="365.60" stroke="#000" stroke-width="1.35"/>
<line x1="681.90" y1="365.60" x2="675.60" y2="365.60" stroke="#000" stroke-width="1.35"/>
<text x="461.40" y="536.60" font-size="18.5" text-anchor="middle" >-6</text>
<text x="510.30" y="536.60" font-size="18.5" text-anchor="middle" >-3</text>
<text x="559.20" y="536.60" font-size="18.5" text-anchor="middle" >0</text>
<text x="608.10" y="536.60" font-size="18.5" text-anchor="middle" >3</text>
<text x="657.00" y="536.60" font-size="18.5" text-anchor="middle" >6</text>
<text x="430.00" y="371.10" font-size="18.5" text-anchor="end" >800</text>
<text x="430.00" y="521.10" font-size="18.5" text-anchor="end" >0</text>
<text x="150.60" y="561.00" font-size="21.6" text-anchor="start" >l (r.l.u.)</text>
<text x="526.00" y="560.80" font-size="21.6" text-anchor="start" >l (r.l.u.)</text>
<text transform="translate(17,487) rotate(-90)" font-size="21.5">Counts (arb. u.)</text>
<text transform="translate(392.4,487) rotate(-90)" font-size="21.5">Counts (arb. u.)</text>
<line x1="65.90" y1="324.80" x2="94.10" y2="324.80" stroke="#ff9090" stroke-width="1.5"/>
<circle cx="79.6" cy="324.8" r="2.4" fill="url(#gred)"/>
<text x="97.90" y="329.20" font-size="12.6" text-anchor="start" >counts for H = -4</text>
<line x1="65.90" y1="340.05" x2="94.10" y2="340.05" stroke="#9898ff" stroke-width="1.5"/>
<circle cx="79.6" cy="340.1" r="2.4" fill="#7878f4"/>
<text x="97.90" y="344.45" font-size="12.6" text-anchor="start" >reference counts from panel (d)</text>
<line x1="65.90" y1="355.30" x2="94.10" y2="355.30" stroke="#a8ffff" stroke-width="1.5"/>
<circle cx="79.6" cy="355.3" r="2.4" fill="#a0fcfc"/>
<text x="97.90" y="359.70" font-size="12.6" text-anchor="start" >difference</text>
<rect x="438" y="315.2" width="243" height="47.8" fill="#fff"/>
<line x1="438.50" y1="324.20" x2="467.00" y2="324.20" stroke="#7878ff" stroke-width="1.5"/>
<circle cx="453" cy="324.2" r="2.7" fill="url(#gblue)"/>
<text x="470.50" y="328.50" font-size="12" text-anchor="start" >counts for H=-4</text>
<line x1="438.50" y1="339.60" x2="467.00" y2="339.60" stroke="#8a0000" stroke-width="2.3"/>
<text x="470.50" y="343.90" font-size="12" text-anchor="start" >background</text>
<line x1="438.5" y1="355.0" x2="467" y2="355.0" stroke="#00e8f0" stroke-width="2.2" stroke-dasharray="8,10,10"/>
<text x="470.50" y="359.30" font-size="12" text-anchor="start" >fit: w = 1.355(84)</text>
<line x1="562.20" y1="324.20" x2="589.80" y2="324.20" stroke="#dcdcdc" stroke-width="1.6"/>
<text x="594.00" y="328.50" font-size="12" text-anchor="start" >counts for H=-3</text>
<line x1="562.20" y1="355.00" x2="589.80" y2="355.00" stroke="#000" stroke-width="1.3"/>
<text x="594.00" y="359.30" font-size="12" text-anchor="start" >fit: w = 0.230(5)</text>
</svg></body></html>
